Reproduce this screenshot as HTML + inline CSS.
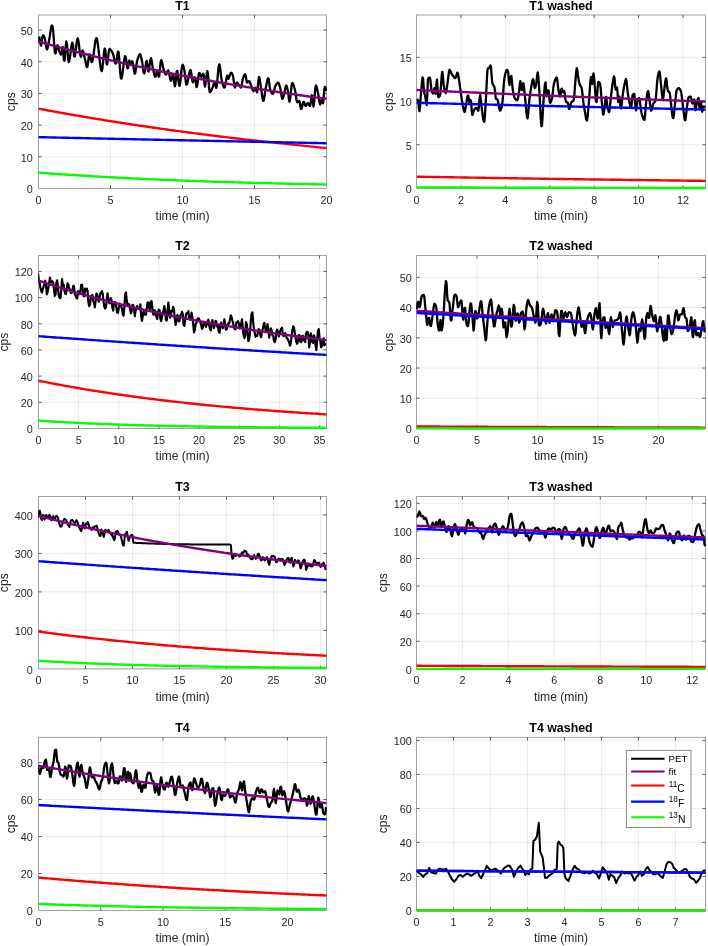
<!DOCTYPE html>
<html lang="en"><head><meta charset="utf-8"><title>PET decay fits</title>
<style>html,body{margin:0;padding:0;background:#fff}body{width:708px;height:946px;overflow:hidden}svg{will-change:transform;font-family:"Liberation Sans",Arial,Helvetica,sans-serif}</style></head>
<body>
<svg width="708" height="946" viewBox="0 0 708 946" style="display:block">
<rect width="708" height="946" fill="#fff"/>
<g>
<path d="M38.5 15V188.45M110.5 15V188.45M182.5 15V188.45M254.5 15V188.45M326.5 15V188.45" stroke="#262626" stroke-opacity="0.09" stroke-width="1" fill="none"/>
<path d="M38.5 188.45H326.5M38.5 156.78H326.5M38.5 125.11H326.5M38.5 93.44H326.5M38.5 61.77H326.5M38.5 30.1H326.5" stroke="#262626" stroke-opacity="0.09" stroke-width="1" fill="none"/>
<rect x="38.5" y="15" width="288" height="173.45" fill="none" stroke="#a2a2a2" stroke-width="1"/>
<path d="M110.5 188.45v-3M110.5 15v3M182.5 188.45v-3M182.5 15v3M254.5 188.45v-3M254.5 15v3M38.5 156.78h3M326.5 156.78h-3M38.5 125.11h3M326.5 125.11h-3M38.5 93.44h3M326.5 93.44h-3M38.5 61.77h3M326.5 61.77h-3M38.5 30.1h3M326.5 30.1h-3" stroke="#5c5c5c" stroke-width="1" fill="none"/>
<clipPath id="c0"><rect x="38.2" y="14.7" width="288.8" height="175.35"/></clipPath>
<g clip-path="url(#c0)" fill="none" stroke-linejoin="round" stroke-linecap="butt">
<polyline points="38.12,42.6 38.72,38.27 39.32,37.5 39.92,40.35 40.52,44.04 41.12,45.69 41.72,42.38 42.32,37.13 42.92,35.27 43.52,35.73 44.12,36.61 44.72,37.92 45.32,41.06 45.92,45.04 46.52,48.3 47.12,49.35 47.72,47.9 48.32,44.94 48.92,41.31 49.52,37.86 50.12,34.19 50.72,29.9 51.32,26.48 51.92,25.4 52.52,26.4 53.12,29.81 53.72,37.78 54.32,46.76 54.92,53 55.52,53.45 56.12,50.78 56.72,47.39 57.32,45.25 57.92,45.88 58.52,48.31 59.12,50.82 59.72,52.35 60.32,53.7 60.92,54.52 61.52,53.16 62.12,48.34 62.72,46.97 63.32,53.05 63.92,60.18 64.52,60.77 65.12,54.26 65.72,46 66.32,41.5 66.92,44.22 67.52,51.14 68.12,58.37 68.72,62.06 69.32,60.91 69.92,57.55 70.52,53.02 71.12,48.35 71.72,44.56 72.32,42.66 72.92,44.73 73.52,50.78 74.12,56.12 74.72,56.56 75.32,53.51 75.92,48.76 76.52,43.71 77.12,39.78 77.72,38.37 78.32,40.3 78.92,44.51 79.52,49.61 80.12,54.18 80.72,56.81 81.32,56.07 81.92,52.79 82.52,50.42 83.12,51.15 83.72,53.49 84.32,56.38 84.92,58.91 85.52,61.8 86.12,64.73 86.72,66.83 87.32,67.05 87.92,63.55 88.52,58.34 89.12,54.43 89.72,54.34 90.32,56.73 90.92,59.84 91.52,62.07 92.12,62.02 92.72,59.85 93.32,56.23 93.92,51.78 94.52,47.13 95.12,42.89 95.72,39.68 96.32,38.14 96.92,38.83 97.52,41.66 98.12,46.04 98.72,51.35 99.32,57.01 99.92,62.42 100.52,66.97 101.12,70.07 101.72,71.12 102.32,68.82 102.92,63.68 103.52,57.43 104.12,51.81 104.72,48.52 105.32,49.95 105.92,56.65 106.52,63.3 107.12,64.58 107.72,61.03 108.32,55.58 108.92,50.73 109.52,48.95 110.12,49.21 110.72,49.82 111.32,50.7 111.92,51.77 112.52,52.96 113.12,54.23 113.72,56.41 114.32,59.23 114.92,61.89 115.52,63.57 116.12,63.17 116.72,59.62 117.32,54.95 117.92,51.55 118.52,51.97 119.12,57.46 119.72,65.55 120.32,73.48 120.92,78.48 121.52,78.57 122.12,75.91 122.72,71.66 123.32,66.69 123.92,61.86 124.52,58.05 125.12,56.11 125.72,57.08 126.32,60.74 126.92,65.14 127.52,68.27 128.12,67.98 128.72,64 129.32,60.52 129.92,63.1 130.52,62.99 131.12,62.16 131.72,61.39 132.32,61.37 132.92,63.68 133.52,67.48 134.12,71.3 134.72,73.68 135.32,73.02 135.92,69.14 136.52,64.32 137.12,60.97 137.72,58.82 138.32,56.84 138.92,55.26 139.52,54.3 140.12,54.26 140.72,55.68 141.32,58.09 141.92,60.8 142.52,64.27 143.12,68.95 143.72,72.71 144.32,73.4 144.92,70.65 145.52,66.33 146.12,62.42 146.72,60.93 147.32,64.49 147.92,69.95 148.52,71.62 149.12,68.83 149.72,64.2 150.32,59.9 150.92,58.08 151.52,59.89 152.12,63.7 152.72,67.5 153.32,70.2 153.92,72.96 154.52,75.35 155.12,76.8 155.72,76.46 156.32,73.4 156.92,70.62 157.52,71.18 158.12,74.15 158.72,76.72 159.32,75.64 159.92,69.61 160.52,62.89 161.12,60.07 161.72,61.15 162.32,63.53 162.92,66.45 163.52,69.14 164.12,70.95 164.72,72.56 165.32,73.91 165.92,74.58 166.52,74.01 167.12,72.37 167.72,70.8 168.32,70.49 168.92,72.35 169.52,75.5 170.12,78.7 170.72,80.74 171.32,80.42 171.92,77.93 172.52,75.12 173.12,73.92 173.72,77.37 174.32,83.23 174.92,86.33 175.52,83.19 176.12,76.72 176.72,71.3 177.32,71.01 177.92,75.29 178.52,81.13 179.12,85.56 179.72,85.83 180.32,82.09 180.92,76.26 181.52,70.2 182.12,65.8 182.72,64.8 183.32,66.1 183.92,68.4 184.52,71.07 185.12,75.77 185.72,81.22 186.32,84.68 186.92,84.45 187.52,82.44 188.12,79.43 188.72,76.04 189.32,72.92 189.92,70.68 190.52,69.97 191.12,72.31 191.72,76.7 192.32,80.82 192.92,82.35 193.52,81.1 194.12,78.9 194.72,77.22 195.32,78.14 195.92,83.07 196.52,87.09 197.12,86.11 197.72,81.92 198.32,76.88 198.92,73.3 199.52,73 200.12,74.33 200.72,75.93 201.32,76.72 201.92,76.13 202.52,74.89 203.12,73.82 203.72,74.87 204.32,82.35 204.92,86.58 205.52,84.01 206.12,78.93 206.72,73.81 207.32,71.12 207.92,73.62 208.52,80.61 209.12,88.12 209.72,92.19 210.32,91.98 210.92,91.09 211.52,89.83 212.12,88.43 212.72,87.13 213.32,85.46 213.92,83.65 214.52,82.49 215.12,83.33 215.72,86.71 216.32,87.84 216.92,84.46 217.52,78.38 218.12,71.62 218.72,66.25 219.32,64.31 219.92,66.54 220.52,71.24 221.12,76.55 221.72,80.58 222.32,82.91 222.92,85.05 223.52,86.73 224.12,87.66 224.72,87.25 225.32,84.87 225.92,81.44 226.52,78.03 227.12,75.72 227.72,77.09 228.32,78.88 228.92,77.73 229.52,76 230.12,74.23 230.72,72.98 231.32,72.76 231.92,73.38 232.52,74.54 233.12,76.23 233.72,80.83 234.32,85.88 234.92,87.47 235.52,85.99 236.12,83.81 236.72,82.61 237.32,82.84 237.92,83.49 238.52,84.34 239.12,85.2 239.72,86.03 240.32,86.99 240.92,87.53 241.52,86.15 242.12,82.66 242.72,79.44 243.32,77.64 243.92,75.99 244.52,74.73 245.12,74.14 245.72,75.6 246.32,79.52 246.92,82.44 247.52,82.44 248.12,81.9 248.72,81.37 249.32,81.23 249.92,82.16 250.52,83.86 251.12,85.65 251.72,87.24 252.32,89.08 252.92,90.58 253.52,91.05 254.12,90.17 254.72,88.72 255.32,87.65 255.92,88.42 256.52,91.39 257.12,92.2 257.72,87.75 258.32,81.21 258.92,76.9 259.52,77.81 260.12,81.63 260.72,85.84 261.32,89.84 261.92,94.46 262.52,98.51 263.12,100.8 263.72,100.27 264.32,97.37 264.92,93.3 265.52,89.29 266.12,86.25 266.72,83.12 267.32,80.25 267.92,78.39 268.52,78.56 269.12,82.11 269.72,86.9 270.32,90.24 270.92,91.56 271.52,92.67 272.12,93.47 272.72,93.87 273.32,93.43 273.92,91.42 274.52,88.79 275.12,86.59 275.72,85.4 276.32,84.35 276.92,83.46 277.52,82.84 278.12,82.6 278.72,83.24 279.32,84.89 279.92,87.03 280.52,89.38 281.12,93.12 281.72,96.89 282.32,98.82 282.92,98.17 283.52,96.36 284.12,94.2 284.72,91.57 285.32,88.19 285.92,85.75 286.52,85.73 287.12,87.56 287.72,90.29 288.32,93.72 288.92,99.2 289.52,101.63 290.12,98.94 290.72,93.62 291.32,87.81 291.92,83.67 292.52,82.97 293.12,83.85 293.72,85.45 294.32,87.5 294.92,89.74 295.52,92.66 296.12,97.12 296.72,101.06 297.32,102.36 297.92,102 298.52,101.42 299.12,101 299.72,101.95 300.32,105.72 300.92,109.04 301.52,108.97 302.12,106.7 302.72,103.86 303.32,101.89 303.92,101.99 304.52,103.49 305.12,105.17 305.72,105.9 306.32,105.28 306.92,104.13 307.52,103.21 308.12,103.25 308.72,104.21 309.32,105.35 309.92,105.9 310.52,103.7 311.12,99.14 311.72,95.29 312.32,95.83 312.92,102.79 313.52,106.56 314.12,102.58 314.72,95.09 315.32,88.06 315.92,85.43 316.52,86.52 317.12,88.88 317.72,91.9 318.32,94.94 318.92,98.52 319.52,102.64 320.12,104.49 320.72,103.15 321.32,100.82 321.92,99.55 322.52,102.27 323.12,103.23 323.72,96.9 324.32,89.21 324.92,86.88 325.52,87.85 326.12,90.93" stroke="#000" stroke-width="2.3"/>
<polyline points="38.5,41.5 40.92,42.19 43.34,42.88 45.76,43.57 48.18,44.25 50.6,44.92 53.02,45.59 55.44,46.26 57.86,46.92 60.28,47.58 62.7,48.23 65.12,48.87 67.54,49.52 69.96,50.16 72.38,50.79 74.8,51.42 77.22,52.05 79.64,52.67 82.06,53.29 84.48,53.9 86.9,54.51 89.32,55.11 91.74,55.71 94.16,56.31 96.58,56.9 99,57.49 101.42,58.08 103.84,58.66 106.26,59.24 108.68,59.81 111.11,60.38 113.53,60.94 115.95,61.51 118.37,62.07 120.79,62.62 123.21,63.17 125.63,63.72 128.05,64.26 130.47,64.8 132.89,65.34 135.31,65.87 137.73,66.4 140.15,66.93 142.57,67.45 144.99,67.97 147.41,68.49 149.83,69 152.25,69.51 154.67,70.01 157.09,70.52 159.51,71.01 161.93,71.51 164.35,72 166.77,72.49 169.19,72.98 171.61,73.46 174.03,73.94 176.45,74.42 178.87,74.9 181.29,75.37 183.71,75.84 186.13,76.3 188.55,76.76 190.97,77.22 193.39,77.68 195.81,78.13 198.23,78.58 200.65,79.03 203.07,79.48 205.49,79.92 207.91,80.36 210.33,80.8 212.75,81.23 215.17,81.66 217.59,82.09 220.01,82.52 222.43,82.94 224.85,83.36 227.27,83.78 229.69,84.19 232.11,84.61 234.53,85.02 236.95,85.42 239.37,85.83 241.79,86.23 244.21,86.63 246.63,87.03 249.05,87.42 251.47,87.82 253.89,88.21 256.32,88.6 258.74,88.98 261.16,89.37 263.58,89.75 266,90.13 268.42,90.5 270.84,90.88 273.26,91.25 275.68,91.62 278.1,91.99 280.52,92.35 282.94,92.71 285.36,93.07 287.78,93.43 290.2,93.79 292.62,94.14 295.04,94.5 297.46,94.85 299.88,95.19 302.3,95.54 304.72,95.88 307.14,96.23 309.56,96.57 311.98,96.9 314.4,97.24 316.82,97.57 319.24,97.91 321.66,98.24 324.08,98.56 326.5,98.89" stroke="#800080" stroke-width="2.4"/>
<polyline points="38.5,108.64 40.92,109.1 43.34,109.55 45.76,110 48.18,110.45 50.6,110.89 53.02,111.33 55.44,111.77 57.86,112.21 60.28,112.65 62.7,113.08 65.12,113.51 67.54,113.94 69.96,114.36 72.38,114.78 74.8,115.2 77.22,115.62 79.64,116.04 82.06,116.45 84.48,116.86 86.9,117.27 89.32,117.68 91.74,118.08 94.16,118.48 96.58,118.88 99,119.28 101.42,119.67 103.84,120.06 106.26,120.45 108.68,120.84 111.11,121.23 113.53,121.61 115.95,121.99 118.37,122.37 120.79,122.75 123.21,123.12 125.63,123.5 128.05,123.87 130.47,124.23 132.89,124.6 135.31,124.97 137.73,125.33 140.15,125.69 142.57,126.05 144.99,126.4 147.41,126.76 149.83,127.11 152.25,127.46 154.67,127.8 157.09,128.15 159.51,128.49 161.93,128.84 164.35,129.18 166.77,129.52 169.19,129.85 171.61,130.19 174.03,130.52 176.45,130.85 178.87,131.18 181.29,131.5 183.71,131.83 186.13,132.15 188.55,132.47 190.97,132.79 193.39,133.11 195.81,133.43 198.23,133.74 200.65,134.05 203.07,134.36 205.49,134.67 207.91,134.98 210.33,135.28 212.75,135.58 215.17,135.89 217.59,136.19 220.01,136.48 222.43,136.78 224.85,137.08 227.27,137.37 229.69,137.66 232.11,137.95 234.53,138.24 236.95,138.52 239.37,138.81 241.79,139.09 244.21,139.37 246.63,139.65 249.05,139.93 251.47,140.21 253.89,140.48 256.32,140.76 258.74,141.03 261.16,141.3 263.58,141.57 266,141.84 268.42,142.1 270.84,142.37 273.26,142.63 275.68,142.89 278.1,143.15 280.52,143.41 282.94,143.67 285.36,143.92 287.78,144.18 290.2,144.43 292.62,144.68 295.04,144.93 297.46,145.18 299.88,145.42 302.3,145.67 304.72,145.91 307.14,146.16 309.56,146.4 311.98,146.64 314.4,146.88 316.82,147.11 319.24,147.35 321.66,147.58 324.08,147.82 326.5,148.05" stroke="#ff0000" stroke-width="2.4"/>
<polyline points="38.5,137.14 40.92,137.2 43.34,137.25 45.76,137.31 48.18,137.36 50.6,137.42 53.02,137.47 55.44,137.52 57.86,137.58 60.28,137.63 62.7,137.69 65.12,137.74 67.54,137.79 69.96,137.85 72.38,137.9 74.8,137.95 77.22,138.01 79.64,138.06 82.06,138.12 84.48,138.17 86.9,138.22 89.32,138.28 91.74,138.33 94.16,138.38 96.58,138.43 99,138.49 101.42,138.54 103.84,138.59 106.26,138.65 108.68,138.7 111.11,138.75 113.53,138.81 115.95,138.86 118.37,138.91 120.79,138.96 123.21,139.02 125.63,139.07 128.05,139.12 130.47,139.17 132.89,139.22 135.31,139.28 137.73,139.33 140.15,139.38 142.57,139.43 144.99,139.49 147.41,139.54 149.83,139.59 152.25,139.64 154.67,139.69 157.09,139.74 159.51,139.8 161.93,139.85 164.35,139.9 166.77,139.95 169.19,140 171.61,140.05 174.03,140.1 176.45,140.16 178.87,140.21 181.29,140.26 183.71,140.31 186.13,140.36 188.55,140.41 190.97,140.46 193.39,140.51 195.81,140.56 198.23,140.62 200.65,140.67 203.07,140.72 205.49,140.77 207.91,140.82 210.33,140.87 212.75,140.92 215.17,140.97 217.59,141.02 220.01,141.07 222.43,141.12 224.85,141.17 227.27,141.22 229.69,141.27 232.11,141.32 234.53,141.37 236.95,141.42 239.37,141.47 241.79,141.52 244.21,141.57 246.63,141.62 249.05,141.67 251.47,141.72 253.89,141.77 256.32,141.82 258.74,141.87 261.16,141.92 263.58,141.97 266,142.02 268.42,142.06 270.84,142.11 273.26,142.16 275.68,142.21 278.1,142.26 280.52,142.31 282.94,142.36 285.36,142.41 287.78,142.46 290.2,142.51 292.62,142.55 295.04,142.6 297.46,142.65 299.88,142.7 302.3,142.75 304.72,142.8 307.14,142.85 309.56,142.89 311.98,142.94 314.4,142.99 316.82,143.04 319.24,143.09 321.66,143.14 324.08,143.18 326.5,143.23" stroke="#0000ff" stroke-width="2.4"/>
<polyline points="38.5,172.61 40.92,172.8 43.34,172.98 45.76,173.16 48.18,173.34 50.6,173.51 53.02,173.69 55.44,173.86 57.86,174.03 60.28,174.2 62.7,174.36 65.12,174.53 67.54,174.69 69.96,174.85 72.38,175.01 74.8,175.16 77.22,175.32 79.64,175.47 82.06,175.62 84.48,175.77 86.9,175.92 89.32,176.06 91.74,176.21 94.16,176.35 96.58,176.49 99,176.63 101.42,176.77 103.84,176.9 106.26,177.04 108.68,177.17 111.11,177.3 113.53,177.43 115.95,177.56 118.37,177.68 120.79,177.81 123.21,177.93 125.63,178.05 128.05,178.18 130.47,178.29 132.89,178.41 135.31,178.53 137.73,178.64 140.15,178.76 142.57,178.87 144.99,178.98 147.41,179.09 149.83,179.2 152.25,179.31 154.67,179.42 157.09,179.52 159.51,179.62 161.93,179.73 164.35,179.83 166.77,179.93 169.19,180.03 171.61,180.13 174.03,180.22 176.45,180.32 178.87,180.41 181.29,180.51 183.71,180.6 186.13,180.69 188.55,180.78 190.97,180.87 193.39,180.96 195.81,181.04 198.23,181.13 200.65,181.21 203.07,181.3 205.49,181.38 207.91,181.46 210.33,181.55 212.75,181.63 215.17,181.7 217.59,181.78 220.01,181.86 222.43,181.94 224.85,182.01 227.27,182.09 229.69,182.16 232.11,182.23 234.53,182.31 236.95,182.38 239.37,182.45 241.79,182.52 244.21,182.59 246.63,182.66 249.05,182.72 251.47,182.79 253.89,182.86 256.32,182.92 258.74,182.98 261.16,183.05 263.58,183.11 266,183.17 268.42,183.23 270.84,183.3 273.26,183.36 275.68,183.41 278.1,183.47 280.52,183.53 282.94,183.59 285.36,183.64 287.78,183.7 290.2,183.76 292.62,183.81 295.04,183.86 297.46,183.92 299.88,183.97 302.3,184.02 304.72,184.07 307.14,184.12 309.56,184.17 311.98,184.22 314.4,184.27 316.82,184.32 319.24,184.37 321.66,184.42 324.08,184.46 326.5,184.51" stroke="#00ff00" stroke-width="2.4"/>
</g>
<g font-size="10.8" fill="#262626">
<text x="38.5" y="203.75" text-anchor="middle">0</text>
<text x="110.5" y="203.75" text-anchor="middle">5</text>
<text x="182.5" y="203.75" text-anchor="middle">10</text>
<text x="254.5" y="203.75" text-anchor="middle">15</text>
<text x="326.5" y="203.75" text-anchor="middle">20</text>
<text x="32.7" y="193.2" text-anchor="end">0</text>
<text x="32.7" y="161.53" text-anchor="end">10</text>
<text x="32.7" y="129.86" text-anchor="end">20</text>
<text x="32.7" y="98.19" text-anchor="end">30</text>
<text x="32.7" y="66.52" text-anchor="end">40</text>
<text x="32.7" y="34.85" text-anchor="end">50</text>
</g>
<text x="182.5" y="220.05" font-size="12.15" fill="#262626" text-anchor="middle">time (min)</text>
<text transform="translate(14.7 101.72) rotate(-90)" font-size="12.15" fill="#262626" text-anchor="middle">cps</text>
<text x="182.5" y="9.9" font-size="12.4" font-weight="bold" fill="#000" text-anchor="middle">T1</text>
</g>
<g>
<path d="M416.5 15V188.45M460.92 15V188.45M505.34 15V188.45M549.76 15V188.45M594.18 15V188.45M638.6 15V188.45M683.02 15V188.45" stroke="#262626" stroke-opacity="0.09" stroke-width="1" fill="none"/>
<path d="M416.5 188.45H705.5M416.5 144.76H705.5M416.5 101.08H705.5M416.5 57.39H705.5" stroke="#262626" stroke-opacity="0.09" stroke-width="1" fill="none"/>
<rect x="416.5" y="15" width="289" height="173.45" fill="none" stroke="#a2a2a2" stroke-width="1"/>
<path d="M460.92 188.45v-3M460.92 15v3M505.34 188.45v-3M505.34 15v3M549.76 188.45v-3M549.76 15v3M594.18 188.45v-3M594.18 15v3M638.6 188.45v-3M638.6 15v3M683.02 188.45v-3M683.02 15v3M416.5 144.76h3M705.5 144.76h-3M416.5 101.08h3M705.5 101.08h-3M416.5 57.39h3M705.5 57.39h-3" stroke="#5c5c5c" stroke-width="1" fill="none"/>
<clipPath id="c1"><rect x="416.2" y="14.7" width="289.8" height="175.35"/></clipPath>
<g clip-path="url(#c1)" fill="none" stroke-linejoin="round" stroke-linecap="butt">
<polyline points="416.54,99.44 417.14,99.58 417.74,99.96 418.34,102.42 418.94,109.04 419.54,111.06 420.14,105.1 420.74,96.29 421.34,89.27 421.94,82.13 422.54,77.3 423.14,79.2 423.74,87.78 424.34,93.2 424.94,95.26 425.54,98.02 426.14,102.68 426.74,105.04 427.34,93.93 427.94,79.57 428.54,77.94 429.14,77.65 429.74,77.54 430.34,79.83 430.94,85.58 431.54,90.47 432.14,92.36 432.74,93.58 433.34,93.25 433.94,89.99 434.54,88.21 435.14,93.37 435.74,93.71 436.34,84.75 436.94,79.75 437.54,87.65 438.14,96.76 438.74,97.17 439.34,96.56 439.94,95.58 440.54,92.38 441.14,83.8 441.74,75.1 442.34,71.99 442.94,76.46 443.54,83.46 444.14,87.72 444.74,90.56 445.34,92.56 445.94,92.93 446.54,90.27 447.14,85.87 447.74,81.71 448.34,76.87 448.94,72.14 449.54,69.79 450.14,70.33 450.74,71.73 451.34,73.15 451.94,74.17 452.54,75.11 453.14,75.96 453.74,76.78 454.34,77.61 454.94,78.17 455.54,77.98 456.14,76.28 456.74,74.09 457.34,72.68 457.94,73.51 458.54,76.78 459.14,80.71 459.74,84.69 460.34,89.33 460.94,93.97 461.54,98.03 462.14,101.82 462.74,105.24 463.34,108.06 463.94,110.78 464.54,112.15 465.14,110.51 465.74,106.82 466.34,103.25 466.94,99.45 467.54,96.08 468.14,95.45 468.74,98.54 469.34,102.4 469.94,103.41 470.54,100.07 471.14,101.96 471.74,111.23 472.34,114.91 472.94,113.72 473.54,111.73 474.14,109.89 474.74,108.97 475.34,108.32 475.94,107.94 476.54,108.16 477.14,109.18 477.74,110.29 478.34,110.66 478.94,106.01 479.54,98.67 480.14,95.22 480.74,98.99 481.34,105.15 481.94,109.64 482.54,114.26 483.14,118.42 483.74,121.27 484.34,121.76 484.94,115.62 485.54,105.08 486.14,94.81 486.74,82.3 487.34,71.09 487.94,68.36 488.54,68.36 489.14,68.13 489.74,66.71 490.34,65.38 490.94,67.11 491.54,74.41 492.14,81.66 492.74,84.16 493.34,85.17 493.94,86.04 494.54,87.54 495.14,92.68 495.74,98.16 496.34,99.01 496.94,99.21 497.54,99.77 498.14,102.02 498.74,105.35 499.34,108.57 499.94,110.55 500.54,110.42 501.14,108.87 501.74,106.37 502.34,103.32 502.94,96.93 503.54,87.94 504.14,80.22 504.74,76.48 505.34,73.64 505.94,71.41 506.54,70.05 507.14,69.83 507.74,70.64 508.34,73.7 508.94,81.89 509.54,85.15 510.14,81.41 510.74,76.62 511.34,75.96 511.94,81.05 512.54,87.79 513.14,91.98 513.74,94.84 514.34,97.13 514.94,98.57 515.54,99.24 516.14,99.75 516.74,100.06 517.34,100.04 517.94,98.28 518.54,95.44 519.14,90.89 519.74,84.78 520.34,81.15 520.94,84.02 521.54,89.81 522.14,90.05 522.74,85.5 523.34,83.26 523.94,86.66 524.54,92.7 525.14,98.3 525.74,104.73 526.34,111.44 526.94,116.63 527.54,118.47 528.14,114.64 528.74,107.1 529.34,99.87 529.94,95.19 530.54,91.13 531.14,87.62 531.74,84.34 532.34,81.09 532.94,79.11 533.54,80.24 534.14,84.75 534.74,88.05 535.34,87.42 535.94,85.26 536.54,81.83 537.14,75.35 537.74,72.39 538.34,76.77 538.94,85.03 539.54,93.59 540.14,105.31 540.74,117.83 541.34,126.25 541.94,125.92 542.54,117.38 543.14,106.17 543.74,97.69 544.34,90.22 544.94,84.14 545.54,82.45 546.14,89.48 546.74,96.4 547.34,94.58 547.94,90.42 548.54,90.44 549.14,95.93 549.74,101.7 550.34,102.86 550.94,101.81 551.54,99.97 552.14,97.72 552.74,93.27 553.34,87.58 553.94,83.76 554.54,81.68 555.14,79.89 555.74,78.51 556.34,77.7 556.94,77.93 557.54,82.19 558.14,88.03 558.74,91.79 559.34,94.48 559.94,96.31 560.54,95.31 561.14,89.2 561.74,88.61 562.34,90.65 562.94,92.29 563.54,91.86 564.14,90.98 564.74,93.26 565.34,98.46 565.94,101.59 566.54,102.07 567.14,102.31 567.74,102.66 568.34,104.35 568.94,108.74 569.54,108.8 570.14,106.53 570.74,103.82 571.34,102.18 571.94,101.6 572.54,101.25 573.14,100.83 573.74,100 574.34,95.12 574.94,86.86 575.54,79.36 576.14,72.39 576.74,68.11 577.34,70.37 577.94,75.44 578.54,79.27 579.14,82.2 579.74,84.54 580.34,85.85 580.94,86.56 581.54,87.69 582.14,91.24 582.74,96.64 583.34,102.05 583.94,106.14 584.54,109.74 585.14,113.03 585.74,116.68 586.34,119.7 586.94,120.49 587.54,117.09 588.14,110.86 588.74,104.17 589.34,96.56 589.94,87.15 590.54,79.44 591.14,77.04 591.74,83.45 592.34,83.91 592.94,76.88 593.54,73.41 594.14,78.01 594.74,85.4 595.34,93.22 595.94,101.26 596.54,102.09 597.14,95.34 597.74,86.66 598.34,81.83 598.94,82.03 599.54,82.82 600.14,84.04 600.74,88.81 601.34,96.68 601.94,103.76 602.54,109.98 603.14,114.57 603.74,113.88 604.34,109.34 604.94,103.54 605.54,98.93 606.14,96.83 606.74,101.08 607.34,106.14 607.94,108.95 608.54,111.25 609.14,112.14 609.74,109.04 610.34,102.71 610.94,96.61 611.54,91.63 612.14,86.79 612.74,82.72 613.34,79.13 613.94,76.45 614.54,78.2 615.14,86.2 615.74,89.49 616.34,88.42 616.94,87.45 617.54,92.43 618.14,101.89 618.74,102.03 619.34,96.74 619.94,100.52 620.54,107.93 621.14,108.54 621.74,103.88 622.34,97.87 622.94,93.43 623.54,89.67 624.14,86.36 624.74,83.45 625.34,80.6 625.94,79 626.54,80.88 627.14,86.67 627.74,92.69 628.34,96.62 628.94,100.04 629.54,102.91 630.14,105.32 630.74,107.39 631.34,107.25 631.94,100.58 632.54,95.22 633.14,94.42 633.74,93.93 634.34,93.93 634.94,99.96 635.54,108.33 636.14,110.39 636.74,106.51 637.34,101.5 637.94,99.18 638.54,98.38 639.14,98.02 639.74,99.98 640.34,104.91 640.94,110.07 641.54,113.01 642.14,115.18 642.74,117.13 643.34,118.68 643.94,119.66 644.54,119.74 645.14,114.61 645.74,106.35 646.34,100.2 646.94,95.81 647.54,92.27 648.14,90.98 648.74,93.69 649.34,98.77 649.94,103.28 650.54,107.94 651.14,110.7 651.74,109.78 652.34,107.34 652.94,104.76 653.54,103.3 654.14,102.61 654.74,102.02 655.34,101.07 655.94,97.46 656.54,89.77 657.14,81.81 657.74,77.19 658.34,74.03 658.94,71.79 659.54,71.4 660.14,75.52 660.74,82.02 661.34,87.76 661.94,94.25 662.54,98.92 663.14,98.53 663.74,94.2 664.34,88.8 664.94,84.38 665.54,79.9 666.14,78.37 666.74,82.26 667.34,88.07 667.94,91.07 668.54,91.56 669.14,91.9 669.74,92.94 670.34,97.71 670.94,103.44 671.54,108.6 672.14,114 672.74,117.78 673.34,118.09 673.94,114.41 674.54,108.64 675.14,102.84 675.74,97.01 676.34,91.46 676.94,89.69 677.54,88.85 678.14,88.32 678.74,88.14 679.34,88.42 679.94,89.16 680.54,90.27 681.14,91.95 681.74,95.96 682.34,101.23 682.94,106.22 683.54,111.05 684.14,116.22 684.74,119.89 685.34,120.21 685.94,116.44 686.54,110.72 687.14,105.54 687.74,101.43 688.34,97.99 688.94,97.13 689.54,96.84 690.14,96.67 690.74,96.61 691.34,98.59 691.94,102.18 692.54,103.63 693.14,102.3 693.74,100.32 694.34,99.56 694.94,107.8 695.54,110.25 696.14,106.78 696.74,102.51 697.34,100.16 697.94,98.64 698.54,98.05 699.14,105.92 699.74,108.78 700.34,104.83 700.94,102.27 701.54,106.32 702.14,111.66 702.74,110.46 703.34,106.68 703.94,106.52 704.54,106.73 705.14,107.36" stroke="#000" stroke-width="2.3"/>
<polyline points="416.5,89.98 418.93,90.09 421.36,90.21 423.79,90.32 426.21,90.43 428.64,90.54 431.07,90.65 433.5,90.75 435.93,90.86 438.36,90.97 440.79,91.08 443.21,91.19 445.64,91.3 448.07,91.4 450.5,91.51 452.93,91.62 455.36,91.73 457.79,91.83 460.21,91.94 462.64,92.05 465.07,92.15 467.5,92.26 469.93,92.36 472.36,92.47 474.79,92.57 477.21,92.68 479.64,92.78 482.07,92.89 484.5,92.99 486.93,93.1 489.36,93.2 491.79,93.3 494.21,93.41 496.64,93.51 499.07,93.61 501.5,93.71 503.93,93.82 506.36,93.92 508.79,94.02 511.21,94.12 513.64,94.22 516.07,94.32 518.5,94.42 520.93,94.53 523.36,94.63 525.79,94.73 528.21,94.83 530.64,94.93 533.07,95.03 535.5,95.12 537.93,95.22 540.36,95.32 542.79,95.42 545.21,95.52 547.64,95.62 550.07,95.72 552.5,95.81 554.93,95.91 557.36,96.01 559.79,96.11 562.21,96.2 564.64,96.3 567.07,96.4 569.5,96.49 571.93,96.59 574.36,96.69 576.79,96.78 579.21,96.88 581.64,96.97 584.07,97.07 586.5,97.16 588.93,97.26 591.36,97.35 593.79,97.45 596.21,97.54 598.64,97.63 601.07,97.73 603.5,97.82 605.93,97.91 608.36,98.01 610.79,98.1 613.21,98.19 615.64,98.29 618.07,98.38 620.5,98.47 622.93,98.56 625.36,98.65 627.79,98.75 630.21,98.84 632.64,98.93 635.07,99.02 637.5,99.11 639.93,99.2 642.36,99.29 644.79,99.38 647.21,99.47 649.64,99.56 652.07,99.65 654.5,99.74 656.93,99.83 659.36,99.92 661.79,100.01 664.21,100.1 666.64,100.19 669.07,100.28 671.5,100.36 673.93,100.45 676.36,100.54 678.79,100.63 681.21,100.72 683.64,100.8 686.07,100.89 688.5,100.98 690.93,101.06 693.36,101.15 695.79,101.24 698.21,101.32 700.64,101.41 703.07,101.5 705.5,101.58" stroke="#800080" stroke-width="2.4"/>
<polyline points="416.5,176.66 418.93,176.7 421.36,176.74 423.79,176.79 426.21,176.83 428.64,176.87 431.07,176.92 433.5,176.96 435.93,177 438.36,177.04 440.79,177.09 443.21,177.13 445.64,177.17 448.07,177.21 450.5,177.25 452.93,177.3 455.36,177.34 457.79,177.38 460.21,177.42 462.64,177.46 465.07,177.5 467.5,177.54 469.93,177.58 472.36,177.62 474.79,177.66 477.21,177.7 479.64,177.74 482.07,177.78 484.5,177.82 486.93,177.86 489.36,177.9 491.79,177.94 494.21,177.98 496.64,178.02 499.07,178.06 501.5,178.1 503.93,178.13 506.36,178.17 508.79,178.21 511.21,178.25 513.64,178.29 516.07,178.32 518.5,178.36 520.93,178.4 523.36,178.44 525.79,178.47 528.21,178.51 530.64,178.55 533.07,178.58 535.5,178.62 537.93,178.66 540.36,178.69 542.79,178.73 545.21,178.77 547.64,178.8 550.07,178.84 552.5,178.87 554.93,178.91 557.36,178.95 559.79,178.98 562.21,179.02 564.64,179.05 567.07,179.09 569.5,179.12 571.93,179.16 574.36,179.19 576.79,179.22 579.21,179.26 581.64,179.29 584.07,179.33 586.5,179.36 588.93,179.39 591.36,179.43 593.79,179.46 596.21,179.49 598.64,179.53 601.07,179.56 603.5,179.59 605.93,179.63 608.36,179.66 610.79,179.69 613.21,179.72 615.64,179.76 618.07,179.79 620.5,179.82 622.93,179.85 625.36,179.89 627.79,179.92 630.21,179.95 632.64,179.98 635.07,180.01 637.5,180.04 639.93,180.07 642.36,180.11 644.79,180.14 647.21,180.17 649.64,180.2 652.07,180.23 654.5,180.26 656.93,180.29 659.36,180.32 661.79,180.35 664.21,180.38 666.64,180.41 669.07,180.44 671.5,180.47 673.93,180.5 676.36,180.53 678.79,180.56 681.21,180.59 683.64,180.62 686.07,180.65 688.5,180.68 690.93,180.7 693.36,180.73 695.79,180.76 698.21,180.79 700.64,180.82 703.07,180.85 705.5,180.88" stroke="#ff0000" stroke-width="2.4"/>
<polyline points="416.5,102.83 418.93,102.89 421.36,102.95 423.79,103 426.21,103.06 428.64,103.12 431.07,103.18 433.5,103.24 435.93,103.3 438.36,103.36 440.79,103.42 443.21,103.48 445.64,103.53 448.07,103.59 450.5,103.65 452.93,103.71 455.36,103.77 457.79,103.83 460.21,103.88 462.64,103.94 465.07,104 467.5,104.06 469.93,104.12 472.36,104.18 474.79,104.23 477.21,104.29 479.64,104.35 482.07,104.41 484.5,104.47 486.93,104.52 489.36,104.58 491.79,104.64 494.21,104.7 496.64,104.76 499.07,104.81 501.5,104.87 503.93,104.93 506.36,104.99 508.79,105.04 511.21,105.1 513.64,105.16 516.07,105.22 518.5,105.27 520.93,105.33 523.36,105.39 525.79,105.45 528.21,105.5 530.64,105.56 533.07,105.62 535.5,105.68 537.93,105.73 540.36,105.79 542.79,105.85 545.21,105.9 547.64,105.96 550.07,106.02 552.5,106.07 554.93,106.13 557.36,106.19 559.79,106.25 562.21,106.3 564.64,106.36 567.07,106.42 569.5,106.47 571.93,106.53 574.36,106.59 576.79,106.64 579.21,106.7 581.64,106.75 584.07,106.81 586.5,106.87 588.93,106.92 591.36,106.98 593.79,107.04 596.21,107.09 598.64,107.15 601.07,107.2 603.5,107.26 605.93,107.32 608.36,107.37 610.79,107.43 613.21,107.48 615.64,107.54 618.07,107.6 620.5,107.65 622.93,107.71 625.36,107.76 627.79,107.82 630.21,107.87 632.64,107.93 635.07,107.99 637.5,108.04 639.93,108.1 642.36,108.15 644.79,108.21 647.21,108.26 649.64,108.32 652.07,108.37 654.5,108.43 656.93,108.48 659.36,108.54 661.79,108.59 664.21,108.65 666.64,108.71 669.07,108.76 671.5,108.82 673.93,108.87 676.36,108.93 678.79,108.98 681.21,109.03 683.64,109.09 686.07,109.14 688.5,109.2 690.93,109.25 693.36,109.31 695.79,109.36 698.21,109.42 700.64,109.47 703.07,109.53 705.5,109.58" stroke="#0000ff" stroke-width="2.4"/>
<polyline points="416.5,187.4 418.93,187.41 421.36,187.42 423.79,187.43 426.21,187.43 428.64,187.44 431.07,187.45 433.5,187.46 435.93,187.46 438.36,187.47 440.79,187.48 443.21,187.49 445.64,187.49 448.07,187.5 450.5,187.51 452.93,187.51 455.36,187.52 457.79,187.53 460.21,187.54 462.64,187.54 465.07,187.55 467.5,187.56 469.93,187.56 472.36,187.57 474.79,187.58 477.21,187.58 479.64,187.59 482.07,187.6 484.5,187.6 486.93,187.61 489.36,187.62 491.79,187.62 494.21,187.63 496.64,187.63 499.07,187.64 501.5,187.65 503.93,187.65 506.36,187.66 508.79,187.66 511.21,187.67 513.64,187.68 516.07,187.68 518.5,187.69 520.93,187.69 523.36,187.7 525.79,187.71 528.21,187.71 530.64,187.72 533.07,187.72 535.5,187.73 537.93,187.73 540.36,187.74 542.79,187.74 545.21,187.75 547.64,187.75 550.07,187.76 552.5,187.77 554.93,187.77 557.36,187.78 559.79,187.78 562.21,187.79 564.64,187.79 567.07,187.8 569.5,187.8 571.93,187.81 574.36,187.81 576.79,187.82 579.21,187.82 581.64,187.82 584.07,187.83 586.5,187.83 588.93,187.84 591.36,187.84 593.79,187.85 596.21,187.85 598.64,187.86 601.07,187.86 603.5,187.87 605.93,187.87 608.36,187.88 610.79,187.88 613.21,187.88 615.64,187.89 618.07,187.89 620.5,187.9 622.93,187.9 625.36,187.9 627.79,187.91 630.21,187.91 632.64,187.92 635.07,187.92 637.5,187.93 639.93,187.93 642.36,187.93 644.79,187.94 647.21,187.94 649.64,187.94 652.07,187.95 654.5,187.95 656.93,187.96 659.36,187.96 661.79,187.96 664.21,187.97 666.64,187.97 669.07,187.97 671.5,187.98 673.93,187.98 676.36,187.99 678.79,187.99 681.21,187.99 683.64,188 686.07,188 688.5,188 690.93,188.01 693.36,188.01 695.79,188.01 698.21,188.02 700.64,188.02 703.07,188.02 705.5,188.03" stroke="#00ff00" stroke-width="2.4"/>
</g>
<g font-size="10.8" fill="#262626">
<text x="416.5" y="203.75" text-anchor="middle">0</text>
<text x="460.92" y="203.75" text-anchor="middle">2</text>
<text x="505.34" y="203.75" text-anchor="middle">4</text>
<text x="549.76" y="203.75" text-anchor="middle">6</text>
<text x="594.18" y="203.75" text-anchor="middle">8</text>
<text x="638.6" y="203.75" text-anchor="middle">10</text>
<text x="683.02" y="203.75" text-anchor="middle">12</text>
<text x="411.7" y="193.2" text-anchor="end">0</text>
<text x="411.7" y="149.51" text-anchor="end">5</text>
<text x="411.7" y="105.83" text-anchor="end">10</text>
<text x="411.7" y="62.14" text-anchor="end">15</text>
</g>
<text x="561" y="220.05" font-size="12.15" fill="#262626" text-anchor="middle">time (min)</text>
<text transform="translate(392.7 101.72) rotate(-90)" font-size="12.15" fill="#262626" text-anchor="middle">cps</text>
<text x="561" y="9.9" font-size="12.4" font-weight="bold" fill="#000" text-anchor="middle">T1 washed</text>
</g>
<g>
<path d="M38.5 255.5V428.5M78.64 255.5V428.5M118.79 255.5V428.5M158.94 255.5V428.5M199.08 255.5V428.5M239.22 255.5V428.5M279.37 255.5V428.5M319.51 255.5V428.5" stroke="#262626" stroke-opacity="0.09" stroke-width="1" fill="none"/>
<path d="M38.5 428.5H326.5M38.5 402.32H326.5M38.5 376.14H326.5M38.5 349.96H326.5M38.5 323.78H326.5M38.5 297.6H326.5M38.5 271.42H326.5" stroke="#262626" stroke-opacity="0.09" stroke-width="1" fill="none"/>
<rect x="38.5" y="255.5" width="288" height="173" fill="none" stroke="#a2a2a2" stroke-width="1"/>
<path d="M78.64 428.5v-3M78.64 255.5v3M118.79 428.5v-3M118.79 255.5v3M158.94 428.5v-3M158.94 255.5v3M199.08 428.5v-3M199.08 255.5v3M239.22 428.5v-3M239.22 255.5v3M279.37 428.5v-3M279.37 255.5v3M319.51 428.5v-3M319.51 255.5v3M38.5 402.32h3M326.5 402.32h-3M38.5 376.14h3M326.5 376.14h-3M38.5 349.96h3M326.5 349.96h-3M38.5 323.78h3M326.5 323.78h-3M38.5 297.6h3M326.5 297.6h-3M38.5 271.42h3M326.5 271.42h-3" stroke="#5c5c5c" stroke-width="1" fill="none"/>
<clipPath id="c2"><rect x="38.2" y="255.2" width="288.8" height="174.9"/></clipPath>
<g clip-path="url(#c2)" fill="none" stroke-linejoin="round" stroke-linecap="butt">
<polyline points="37.98,273.3 38.78,279.74 39.58,282.64 40.38,287.31 41.18,290.69 41.98,292.44 42.78,288.97 43.58,286.77 44.38,284.06 45.18,280.74 45.98,284.01 46.78,294.42 47.58,292.01 48.38,287.61 49.18,283.12 49.98,277.51 50.78,282.52 51.58,282.01 52.38,281.2 53.18,282.58 53.98,289.01 54.78,295.81 55.58,294.39 56.38,282.69 57.18,280.35 57.98,288.36 58.78,295.39 59.58,297.93 60.38,298.21 61.18,291.21 61.98,279.2 62.78,284.65 63.58,284.57 64.38,290.53 65.18,293.71 65.98,294.04 66.78,288.91 67.58,283.17 68.38,284.58 69.18,288.73 69.98,289.31 70.78,292.94 71.58,292.78 72.38,290.41 73.18,285.82 73.98,286.2 74.78,294.51 75.58,295.56 76.38,297.84 77.18,298.53 77.98,291.08 78.78,291.63 79.58,294.13 80.38,292.47 81.18,285.02 81.98,284.6 82.78,289.69 83.58,296.18 84.38,296.05 85.18,288.64 85.98,290.52 86.78,288.58 87.58,291.01 88.38,301.97 89.18,306.11 89.98,304.51 90.78,297.6 91.58,295.77 92.38,294.99 93.18,301.25 93.98,302.23 94.78,307.42 95.58,301.36 96.38,293.52 97.18,294.35 97.98,299.73 98.78,301.82 99.58,297.58 100.38,293.15 101.18,292.82 101.98,291.06 102.78,294.49 103.58,301.69 104.38,307.01 105.18,308.54 105.98,307.01 106.78,300.13 107.58,293.3 108.38,299.37 109.18,302.9 109.98,303.42 110.78,298.12 111.58,300.45 112.38,307.44 113.18,310.56 113.98,302.55 114.78,301.93 115.58,303.18 116.38,307.59 117.18,312.52 117.98,312.84 118.78,307.78 119.58,303.6 120.38,304.63 121.18,306.32 121.98,308.69 122.78,314.22 123.58,315.63 124.38,307.13 125.18,294.15 125.98,292.45 126.78,300.75 127.58,304.92 128.38,305.11 129.18,304.21 129.98,308.19 130.78,313.35 131.58,311.67 132.38,304.76 133.18,305 133.98,308.12 134.78,316.26 135.58,310.64 136.38,309.29 137.18,305.93 137.98,308.52 138.78,308.29 139.58,309.33 140.38,304.32 141.18,316.42 141.98,320.9 142.78,315.93 143.58,311.29 144.38,314.56 145.18,314.83 145.98,314.53 146.78,308.6 147.58,302.71 148.38,302.58 149.18,308.04 149.98,309.63 150.78,301.69 151.58,301.25 152.38,308.09 153.18,314.22 153.98,314.75 154.78,310.21 155.58,311.99 156.38,316.35 157.18,319 157.98,312.89 158.78,309.69 159.58,310.15 160.38,318.56 161.18,321.04 161.98,317.36 162.78,313.13 163.58,310.08 164.38,306.06 165.18,310.95 165.98,320.24 166.78,320.6 167.58,311.22 168.38,302.53 169.18,310.03 169.98,317.63 170.78,316.34 171.58,310.68 172.38,311.22 173.18,306.91 173.98,309.8 174.78,318.58 175.58,324.93 176.38,321.34 177.18,315.12 177.98,315.79 178.78,321.38 179.58,320.89 180.38,315.22 181.18,314.2 181.98,311.99 182.78,314.11 183.58,324.88 184.38,325.9 185.18,320.06 185.98,314.73 186.78,313.08 187.58,312.9 188.38,311.18 189.18,318.54 189.98,319.71 190.78,319.45 191.58,312.67 192.38,317.25 193.18,323.61 193.98,332.32 194.78,330.15 195.58,324.07 196.38,322.81 197.18,319.42 197.98,318.22 198.78,318.4 199.58,320.07 200.38,322.16 201.18,324.7 201.98,328.91 202.78,328.09 203.58,323.66 204.38,323.01 205.18,324.37 205.98,326.83 206.78,324.56 207.58,321.52 208.38,319.59 209.18,325.48 209.98,328.82 210.78,330.4 211.58,324.67 212.38,320.18 213.18,324.11 213.98,328.07 214.78,324.79 215.58,320.74 216.38,321.88 217.18,326.57 217.98,325.7 218.78,331.94 219.58,332.86 220.38,325.78 221.18,322.55 221.98,325.13 222.78,328.14 223.58,325.24 224.38,319.41 225.18,325.67 225.98,329.71 226.78,329.15 227.58,324.5 228.38,323.22 229.18,323.62 229.98,319.55 230.78,315.28 231.58,317.17 232.38,320.42 233.18,323.37 233.98,327.21 234.78,329.23 235.58,329.11 236.38,322.24 237.18,322.57 237.98,321.2 238.78,323.31 239.58,328.42 240.38,326.73 241.18,323.89 241.98,319.35 242.78,328.67 243.58,335.26 244.38,338 245.18,335.95 245.98,322.1 246.78,324.08 247.58,333.19 248.38,341.1 249.18,339.31 249.98,332.3 250.78,321.41 251.58,314.01 252.38,312.39 253.18,322.18 253.98,329.66 254.78,333.1 255.58,336.83 256.38,335.31 257.18,335.83 257.98,332.24 258.78,329.11 259.58,330.23 260.38,335.05 261.18,337.2 261.98,331.28 262.78,329.15 263.58,324.55 264.38,322.77 265.18,328.3 265.98,331.08 266.78,328.88 267.58,324.17 268.38,330.88 269.18,337.59 269.98,333.41 270.78,328.27 271.58,330.14 272.38,335.18 273.18,335.5 273.98,340.92 274.78,342.08 275.58,339.62 276.38,331.97 277.18,329.52 277.98,333.07 278.78,336.36 279.58,333.14 280.38,330.44 281.18,328.6 281.98,327.62 282.78,333.64 283.58,336.15 284.38,335.34 285.18,333.17 285.98,335.69 286.78,338.11 287.58,338.71 288.38,340.55 289.18,342.43 289.98,345.55 290.78,343.05 291.58,337.53 292.38,330.35 293.18,326.24 293.98,327.82 294.78,332.34 295.58,337.81 296.38,341.76 297.18,343.79 297.98,340.84 298.78,335.15 299.58,335.43 300.38,341.53 301.18,342.18 301.98,336.17 302.78,335.65 303.58,340.36 304.38,338.39 305.18,342.04 305.98,333.75 306.78,332.13 307.58,331.87 308.38,335.19 309.18,347.36 309.98,341.94 310.78,333.28 311.58,336.13 312.38,342.2 313.18,343.13 313.98,335.45 314.78,337.79 315.58,345.29 316.38,350.18 317.18,339.37 317.98,331.01 318.78,329.17 319.58,338.38 320.38,341.5 321.18,347.26 321.98,345.57 322.78,339.75 323.58,338.38 324.38,345.38 325.18,344.2 325.98,343.58" stroke="#000" stroke-width="2.2"/>
<polyline points="38.5,280.58 40.92,281.41 43.34,282.23 45.76,283.04 48.18,283.84 50.6,284.63 53.02,285.41 55.44,286.19 57.86,286.96 60.28,287.72 62.7,288.47 65.12,289.21 67.54,289.95 69.96,290.68 72.38,291.4 74.8,292.12 77.22,292.82 79.64,293.52 82.06,294.22 84.48,294.9 86.9,295.58 89.32,296.26 91.74,296.92 94.16,297.58 96.58,298.24 99,298.89 101.42,299.53 103.84,300.16 106.26,300.79 108.68,301.41 111.11,302.03 113.53,302.64 115.95,303.25 118.37,303.85 120.79,304.44 123.21,305.03 125.63,305.61 128.05,306.19 130.47,306.76 132.89,307.33 135.31,307.89 137.73,308.45 140.15,309 142.57,309.54 144.99,310.09 147.41,310.62 149.83,311.15 152.25,311.68 154.67,312.2 157.09,312.72 159.51,313.24 161.93,313.74 164.35,314.25 166.77,314.75 169.19,315.24 171.61,315.73 174.03,316.22 176.45,316.7 178.87,317.18 181.29,317.66 183.71,318.13 186.13,318.59 188.55,319.06 190.97,319.51 193.39,319.97 195.81,320.42 198.23,320.87 200.65,321.31 203.07,321.75 205.49,322.19 207.91,322.62 210.33,323.05 212.75,323.47 215.17,323.9 217.59,324.31 220.01,324.73 222.43,325.14 224.85,325.55 227.27,325.95 229.69,326.36 232.11,326.76 234.53,327.15 236.95,327.54 239.37,327.93 241.79,328.32 244.21,328.7 246.63,329.08 249.05,329.46 251.47,329.84 253.89,330.21 256.32,330.58 258.74,330.94 261.16,331.31 263.58,331.67 266,332.03 268.42,332.38 270.84,332.73 273.26,333.08 275.68,333.43 278.1,333.78 280.52,334.12 282.94,334.46 285.36,334.8 287.78,335.13 290.2,335.46 292.62,335.79 295.04,336.12 297.46,336.45 299.88,336.77 302.3,337.09 304.72,337.41 307.14,337.73 309.56,338.04 311.98,338.35 314.4,338.66 316.82,338.97 319.24,339.28 321.66,339.58 324.08,339.88 326.5,340.18" stroke="#800080" stroke-width="2.4"/>
<polyline points="38.5,380.72 40.92,381.21 43.34,381.69 45.76,382.17 48.18,382.64 50.6,383.11 53.02,383.57 55.44,384.03 57.86,384.49 60.28,384.94 62.7,385.38 65.12,385.82 67.54,386.26 69.96,386.69 72.38,387.11 74.8,387.54 77.22,387.95 79.64,388.37 82.06,388.78 84.48,389.18 86.9,389.59 89.32,389.98 91.74,390.38 94.16,390.76 96.58,391.15 99,391.53 101.42,391.91 103.84,392.28 106.26,392.65 108.68,393.02 111.11,393.38 113.53,393.74 115.95,394.09 118.37,394.44 120.79,394.79 123.21,395.14 125.63,395.48 128.05,395.81 130.47,396.15 132.89,396.48 135.31,396.8 137.73,397.13 140.15,397.45 142.57,397.77 144.99,398.08 147.41,398.39 149.83,398.7 152.25,399 154.67,399.3 157.09,399.6 159.51,399.9 161.93,400.19 164.35,400.48 166.77,400.76 169.19,401.05 171.61,401.33 174.03,401.6 176.45,401.88 178.87,402.15 181.29,402.42 183.71,402.68 186.13,402.95 188.55,403.21 190.97,403.47 193.39,403.72 195.81,403.98 198.23,404.23 200.65,404.47 203.07,404.72 205.49,404.96 207.91,405.2 210.33,405.44 212.75,405.67 215.17,405.91 217.59,406.14 220.01,406.37 222.43,406.59 224.85,406.82 227.27,407.04 229.69,407.26 232.11,407.47 234.53,407.69 236.95,407.9 239.37,408.11 241.79,408.32 244.21,408.53 246.63,408.73 249.05,408.93 251.47,409.13 253.89,409.33 256.32,409.52 258.74,409.72 261.16,409.91 263.58,410.1 266,410.29 268.42,410.47 270.84,410.66 273.26,410.84 275.68,411.02 278.1,411.2 280.52,411.37 282.94,411.55 285.36,411.72 287.78,411.89 290.2,412.06 292.62,412.23 295.04,412.4 297.46,412.56 299.88,412.72 302.3,412.88 304.72,413.04 307.14,413.2 309.56,413.36 311.98,413.51 314.4,413.67 316.82,413.82 319.24,413.97 321.66,414.12 324.08,414.26 326.5,414.41" stroke="#ff0000" stroke-width="2.4"/>
<polyline points="38.5,336.22 40.92,336.39 43.34,336.57 45.76,336.74 48.18,336.92 50.6,337.09 53.02,337.26 55.44,337.44 57.86,337.61 60.28,337.78 62.7,337.96 65.12,338.13 67.54,338.3 69.96,338.47 72.38,338.64 74.8,338.81 77.22,338.98 79.64,339.15 82.06,339.32 84.48,339.49 86.9,339.66 89.32,339.83 91.74,340 94.16,340.17 96.58,340.34 99,340.5 101.42,340.67 103.84,340.84 106.26,341 108.68,341.17 111.11,341.34 113.53,341.5 115.95,341.67 118.37,341.83 120.79,342 123.21,342.16 125.63,342.33 128.05,342.49 130.47,342.65 132.89,342.82 135.31,342.98 137.73,343.14 140.15,343.31 142.57,343.47 144.99,343.63 147.41,343.79 149.83,343.95 152.25,344.11 154.67,344.27 157.09,344.43 159.51,344.59 161.93,344.75 164.35,344.91 166.77,345.07 169.19,345.23 171.61,345.39 174.03,345.55 176.45,345.7 178.87,345.86 181.29,346.02 183.71,346.18 186.13,346.33 188.55,346.49 190.97,346.64 193.39,346.8 195.81,346.95 198.23,347.11 200.65,347.26 203.07,347.42 205.49,347.57 207.91,347.73 210.33,347.88 212.75,348.03 215.17,348.19 217.59,348.34 220.01,348.49 222.43,348.64 224.85,348.8 227.27,348.95 229.69,349.1 232.11,349.25 234.53,349.4 236.95,349.55 239.37,349.7 241.79,349.85 244.21,350 246.63,350.15 249.05,350.3 251.47,350.45 253.89,350.6 256.32,350.74 258.74,350.89 261.16,351.04 263.58,351.19 266,351.33 268.42,351.48 270.84,351.63 273.26,351.77 275.68,351.92 278.1,352.06 280.52,352.21 282.94,352.36 285.36,352.5 287.78,352.64 290.2,352.79 292.62,352.93 295.04,353.08 297.46,353.22 299.88,353.36 302.3,353.51 304.72,353.65 307.14,353.79 309.56,353.93 311.98,354.07 314.4,354.22 316.82,354.36 319.24,354.5 321.66,354.64 324.08,354.78 326.5,354.92" stroke="#0000ff" stroke-width="2.4"/>
<polyline points="38.5,420.65 40.92,420.81 43.34,420.97 45.76,421.12 48.18,421.28 50.6,421.43 53.02,421.57 55.44,421.72 57.86,421.86 60.28,422 62.7,422.13 65.12,422.26 67.54,422.39 69.96,422.52 72.38,422.64 74.8,422.77 77.22,422.88 79.64,423 82.06,423.11 84.48,423.23 86.9,423.34 89.32,423.44 91.74,423.55 94.16,423.65 96.58,423.75 99,423.85 101.42,423.95 103.84,424.04 106.26,424.13 108.68,424.22 111.11,424.31 113.53,424.4 115.95,424.48 118.37,424.57 120.79,424.65 123.21,424.73 125.63,424.81 128.05,424.88 130.47,424.96 132.89,425.03 135.31,425.1 137.73,425.18 140.15,425.24 142.57,425.31 144.99,425.38 147.41,425.44 149.83,425.51 152.25,425.57 154.67,425.63 157.09,425.69 159.51,425.75 161.93,425.8 164.35,425.86 166.77,425.91 169.19,425.97 171.61,426.02 174.03,426.07 176.45,426.12 178.87,426.17 181.29,426.22 183.71,426.27 186.13,426.31 188.55,426.36 190.97,426.4 193.39,426.45 195.81,426.49 198.23,426.53 200.65,426.57 203.07,426.61 205.49,426.65 207.91,426.69 210.33,426.73 212.75,426.76 215.17,426.8 217.59,426.84 220.01,426.87 222.43,426.9 224.85,426.94 227.27,426.97 229.69,427 232.11,427.03 234.53,427.06 236.95,427.09 239.37,427.12 241.79,427.15 244.21,427.18 246.63,427.21 249.05,427.23 251.47,427.26 253.89,427.28 256.32,427.31 258.74,427.33 261.16,427.36 263.58,427.38 266,427.41 268.42,427.43 270.84,427.45 273.26,427.47 275.68,427.49 278.1,427.51 280.52,427.54 282.94,427.56 285.36,427.57 287.78,427.59 290.2,427.61 292.62,427.63 295.04,427.65 297.46,427.67 299.88,427.68 302.3,427.7 304.72,427.72 307.14,427.73 309.56,427.75 311.98,427.77 314.4,427.78 316.82,427.8 319.24,427.81 321.66,427.82 324.08,427.84 326.5,427.85" stroke="#00ff00" stroke-width="2.4"/>
</g>
<g font-size="10.8" fill="#262626">
<text x="38.5" y="443.8" text-anchor="middle">0</text>
<text x="78.64" y="443.8" text-anchor="middle">5</text>
<text x="118.79" y="443.8" text-anchor="middle">10</text>
<text x="158.94" y="443.8" text-anchor="middle">15</text>
<text x="199.08" y="443.8" text-anchor="middle">20</text>
<text x="239.22" y="443.8" text-anchor="middle">25</text>
<text x="279.37" y="443.8" text-anchor="middle">30</text>
<text x="319.51" y="443.8" text-anchor="middle">35</text>
<text x="32.7" y="433.25" text-anchor="end">0</text>
<text x="32.7" y="407.07" text-anchor="end">20</text>
<text x="32.7" y="380.89" text-anchor="end">40</text>
<text x="32.7" y="354.71" text-anchor="end">60</text>
<text x="32.7" y="328.53" text-anchor="end">80</text>
<text x="32.7" y="302.35" text-anchor="end">100</text>
<text x="32.7" y="276.17" text-anchor="end">120</text>
</g>
<text x="182.5" y="460.1" font-size="12.15" fill="#262626" text-anchor="middle">time (min)</text>
<text transform="translate(8.3 342) rotate(-90)" font-size="12.15" fill="#262626" text-anchor="middle">cps</text>
<text x="182.5" y="250.4" font-size="12.4" font-weight="bold" fill="#000" text-anchor="middle">T2</text>
</g>
<g>
<path d="M416.5 255.5V428.5M477 255.5V428.5M537.5 255.5V428.5M598 255.5V428.5M658.5 255.5V428.5" stroke="#262626" stroke-opacity="0.09" stroke-width="1" fill="none"/>
<path d="M416.5 428.5H705.5M416.5 398.28H705.5M416.5 368.06H705.5M416.5 337.84H705.5M416.5 307.62H705.5M416.5 277.4H705.5" stroke="#262626" stroke-opacity="0.09" stroke-width="1" fill="none"/>
<rect x="416.5" y="255.5" width="289" height="173" fill="none" stroke="#a2a2a2" stroke-width="1"/>
<path d="M477 428.5v-3M477 255.5v3M537.5 428.5v-3M537.5 255.5v3M598 428.5v-3M598 255.5v3M658.5 428.5v-3M658.5 255.5v3M416.5 398.28h3M705.5 398.28h-3M416.5 368.06h3M705.5 368.06h-3M416.5 337.84h3M705.5 337.84h-3M416.5 307.62h3M705.5 307.62h-3M416.5 277.4h3M705.5 277.4h-3" stroke="#5c5c5c" stroke-width="1" fill="none"/>
<clipPath id="c3"><rect x="416.2" y="255.2" width="289.8" height="174.9"/></clipPath>
<g clip-path="url(#c3)" fill="none" stroke-linejoin="round" stroke-linecap="butt">
<polyline points="416.54,309.43 417.14,304.88 417.74,302.32 418.34,301.74 418.94,304.45 419.54,307.21 420.14,305.86 420.74,301.68 421.34,297.48 421.94,295.85 422.54,295.37 423.14,295.04 423.74,294.89 424.34,296.8 424.94,303.13 425.54,309.79 426.14,315.73 426.74,321.74 427.34,324.92 427.94,322.58 428.54,318.05 429.14,317.89 429.74,321.72 430.34,325.6 430.94,325.96 431.54,322.85 432.14,318.6 432.74,314.57 433.34,309.6 433.94,305.35 434.54,303.78 435.14,304.3 435.74,305.55 436.34,307.38 436.94,313.88 437.54,322.52 438.14,327.06 438.74,330.27 439.34,330.44 439.94,324.42 440.54,320.02 441.14,326.83 441.74,330.38 442.34,327.26 442.94,321.78 443.54,315.23 444.14,304.34 444.74,293.81 445.34,286.48 445.94,281.15 446.54,283.18 447.14,294.5 447.74,300.51 448.34,301.24 448.94,301.75 449.54,303.71 450.14,312.06 450.74,320.23 451.34,320.58 451.94,315.9 452.54,309.85 453.14,304.87 453.74,299.45 454.34,295.37 454.94,294.62 455.54,294.79 456.14,295.14 456.74,296.95 457.34,302.71 457.94,307.12 458.54,306.67 459.14,304.71 459.74,302.73 460.34,301.49 460.94,300.48 461.54,301.04 462.14,308.6 462.74,317.49 463.34,319.55 463.94,314.02 464.54,307.78 465.14,307.88 465.74,315.56 466.34,323.18 466.94,325.2 467.54,326.16 468.14,325.98 468.74,320.8 469.34,313.22 469.94,307.57 470.54,303.35 471.14,303.79 471.74,308.75 472.34,315.55 472.94,323.11 473.54,330.53 474.14,326.51 474.74,317.25 475.34,311.01 475.94,312.25 476.54,315.85 477.14,318.48 477.74,317.74 478.34,314.89 478.94,311.69 479.54,308.28 480.14,304.36 480.74,301.5 481.34,301.52 481.94,306.38 482.54,313.29 483.14,318.93 483.74,323.67 484.34,328.5 484.94,335 485.54,340.41 486.14,339.06 486.74,331.37 487.34,322.7 487.94,315.9 488.54,309.62 489.14,305.77 489.74,302.74 490.34,300.49 490.94,299.54 491.54,302.53 492.14,309.67 492.74,316.6 493.34,321.97 493.94,326.39 494.54,326.44 495.14,322.73 495.74,318.25 496.34,315.07 496.94,312.21 497.54,309.72 498.14,307.38 498.74,305.48 499.34,306.68 499.94,313.74 500.54,317.08 501.14,313.01 501.74,308.87 502.34,312.06 502.94,320.87 503.54,327.43 504.14,326.26 504.74,322.47 505.34,322.66 505.94,331.59 506.54,337.24 507.14,335.16 507.74,330.68 508.34,323.98 508.94,312.98 509.54,308.92 510.14,313.75 510.74,321.33 511.34,326.66 511.94,325.33 512.54,318.45 513.14,310.22 513.74,304.89 514.34,306.64 514.94,314.2 515.54,320.71 516.14,320.54 516.74,316.82 517.34,313.42 517.94,313.99 518.54,318.69 519.14,322.6 519.74,321.3 520.34,316.56 520.94,313.05 521.54,312.29 522.14,311.77 522.74,311.55 523.34,314.95 523.94,323.35 524.54,329.37 525.14,326.36 525.74,316.91 526.34,308.87 526.94,304.53 527.54,301.12 528.14,299.99 528.74,301.34 529.34,303.62 529.94,305.27 530.54,305.97 531.14,306.51 531.74,307.33 532.34,309.28 532.94,312.16 533.54,314.89 534.14,317.92 534.74,320.91 535.34,322.71 535.94,320.2 536.54,310.48 537.14,301.97 537.74,303.84 538.34,315.82 538.94,325.25 539.54,325.54 540.14,325.05 540.74,324.3 541.34,321.34 541.94,315.69 542.54,310.48 543.14,308.79 543.74,311.14 544.34,315.03 544.94,318.35 545.54,321.8 546.14,323.55 546.74,320.49 547.34,315.11 547.94,313.06 548.54,316.24 549.14,320.86 549.74,322.81 550.34,320.27 550.94,316.27 551.54,314.38 552.14,316.62 552.74,320.17 553.34,321.3 553.94,318.27 554.54,313.6 555.14,310.37 555.74,310.22 556.34,310.6 556.94,311.26 557.54,314.45 558.14,324.48 558.74,334.24 559.34,336.04 559.94,328.9 560.54,318.58 561.14,311.04 561.74,310.84 562.34,314.12 562.94,317.59 563.54,318.46 564.14,316.18 564.74,313.25 565.34,312.33 565.94,314.01 566.54,316.3 567.14,317.15 567.74,315.36 568.34,312.92 568.94,312.26 569.54,312.36 570.14,312.57 570.74,312.89 571.34,314.6 571.94,318.86 572.54,323.38 573.14,326.9 573.74,330.64 574.34,333.8 574.94,335.48 575.54,333.59 576.14,326.83 576.74,318.89 577.34,313.5 577.94,309.54 578.54,307.35 579.14,309.14 579.74,313.98 580.34,318.74 580.94,323.31 581.54,326.8 582.14,326.54 582.74,324.64 583.34,323.02 583.94,324.72 584.54,331.02 585.14,333.24 585.74,329.76 586.34,324.55 586.94,320.88 587.54,318.61 588.14,316.76 588.74,315.19 589.34,313.65 589.94,312.96 590.54,314.26 591.14,317.22 591.74,320.88 592.34,327.5 592.94,329.48 593.54,324.07 594.14,316.88 594.74,312.52 595.34,309.21 595.94,308.09 596.54,311.37 597.14,316.34 597.74,318.58 598.34,314.16 598.94,306.84 599.54,303.07 600.14,313.55 600.74,331.45 601.34,338.11 601.94,331.06 602.54,321.54 603.14,318.24 603.74,317.48 604.34,317.2 604.94,321.71 605.54,327.88 606.14,326.84 606.74,326.09 607.34,325.72 607.94,326.37 608.54,331.15 609.14,334.14 609.74,329.51 610.34,321.47 610.94,317.2 611.54,319.67 612.14,324.33 612.74,327.07 613.34,325.53 613.94,322.37 614.54,320.69 615.14,320.43 615.74,320.28 616.34,320.12 616.94,319.85 617.54,319.48 618.14,318.95 618.74,317.78 619.34,314.81 619.94,312.43 620.54,314.02 621.14,320.53 621.74,327.73 622.34,334.12 622.94,340.8 623.54,344.61 624.14,341.43 624.74,332.65 625.34,325.62 625.94,319.18 626.54,316.52 627.14,319.16 627.74,324.14 628.34,328.61 628.94,332.49 629.54,335.33 630.14,333.46 630.74,325.96 631.34,319.12 631.94,315.82 632.54,313.26 633.14,312.25 633.74,313.51 634.34,316.42 634.94,319.96 635.54,324.6 636.14,330.49 636.74,337.22 637.34,342.61 637.94,339.26 638.54,332.58 639.14,328.53 639.74,329.45 640.34,331.07 640.94,329.59 641.54,322.51 642.14,319.44 642.74,322.76 643.34,327.83 643.94,333.36 644.54,338.84 645.14,337.42 645.74,324.98 646.34,316.75 646.94,314.25 647.54,313.01 648.14,314.42 648.74,317.78 649.34,317.47 649.94,310.19 650.54,305.92 651.14,308.12 651.74,312.27 652.34,315.83 652.94,318.49 653.54,320.73 654.14,321.31 654.74,318.19 655.34,315.17 655.94,318.5 656.54,326.76 657.14,331.32 657.74,329.76 658.34,326.39 658.94,322.99 659.54,319.65 660.14,316.83 660.74,317.56 661.34,322.66 661.94,328.98 662.54,334.13 663.14,339.32 663.74,340.97 664.34,334.07 664.94,327.28 665.54,331.35 666.14,340.08 666.74,339.79 667.34,327.17 667.94,315.53 668.54,315.52 669.14,320.15 669.74,325.07 670.34,328.66 670.94,332.11 671.54,334.06 672.14,333.65 672.74,331.83 673.34,329.27 673.94,325.51 674.54,319.57 675.14,314.71 675.74,312.13 676.34,310.38 676.94,311.12 677.54,316.09 678.14,320.4 678.74,319.88 679.34,317.01 679.94,314.6 680.54,314.37 681.14,314.37 681.74,314.37 682.34,313.39 682.94,309.61 683.54,308.18 684.14,311.42 684.74,315.77 685.34,317.52 685.94,317.97 686.54,318.68 687.14,324.3 687.74,330.79 688.34,330.94 688.94,329.4 689.54,327.35 690.14,324.24 690.74,319.93 691.34,317.28 691.94,323.1 692.54,335.6 693.14,337.19 693.74,329.47 694.34,321.22 694.94,320.2 695.54,327.3 696.14,334.54 696.74,335.26 697.34,333.91 697.94,332.79 698.54,333.37 699.14,335.3 699.74,336.84 700.34,336.24 700.94,333.33 701.54,329.69 702.14,326.1 702.74,322.03 703.34,321.11 703.94,326.64 704.54,331.28 705.14,330.94" stroke="#000" stroke-width="2.3"/>
<polyline points="416.5,310.76 418.93,310.92 421.36,311.09 423.79,311.25 426.21,311.41 428.64,311.57 431.07,311.73 433.5,311.89 435.93,312.05 438.36,312.21 440.79,312.37 443.21,312.52 445.64,312.68 448.07,312.84 450.5,313 452.93,313.16 455.36,313.31 457.79,313.47 460.21,313.63 462.64,313.78 465.07,313.94 467.5,314.1 469.93,314.25 472.36,314.41 474.79,314.56 477.21,314.72 479.64,314.87 482.07,315.03 484.5,315.18 486.93,315.33 489.36,315.49 491.79,315.64 494.21,315.79 496.64,315.95 499.07,316.1 501.5,316.25 503.93,316.4 506.36,316.55 508.79,316.71 511.21,316.86 513.64,317.01 516.07,317.16 518.5,317.31 520.93,317.46 523.36,317.61 525.79,317.76 528.21,317.91 530.64,318.06 533.07,318.2 535.5,318.35 537.93,318.5 540.36,318.65 542.79,318.8 545.21,318.94 547.64,319.09 550.07,319.24 552.5,319.38 554.93,319.53 557.36,319.68 559.79,319.82 562.21,319.97 564.64,320.11 567.07,320.26 569.5,320.41 571.93,320.55 574.36,320.69 576.79,320.84 579.21,320.98 581.64,321.13 584.07,321.27 586.5,321.41 588.93,321.56 591.36,321.7 593.79,321.84 596.21,321.98 598.64,322.13 601.07,322.27 603.5,322.41 605.93,322.55 608.36,322.69 610.79,322.83 613.21,322.98 615.64,323.12 618.07,323.26 620.5,323.4 622.93,323.54 625.36,323.68 627.79,323.82 630.21,323.95 632.64,324.09 635.07,324.23 637.5,324.37 639.93,324.51 642.36,324.65 644.79,324.78 647.21,324.92 649.64,325.06 652.07,325.2 654.5,325.33 656.93,325.47 659.36,325.61 661.79,325.74 664.21,325.88 666.64,326.02 669.07,326.15 671.5,326.29 673.93,326.42 676.36,326.56 678.79,326.69 681.21,326.83 683.64,326.96 686.07,327.1 688.5,327.23 690.93,327.36 693.36,327.5 695.79,327.63 698.21,327.76 700.64,327.9 703.07,328.03 705.5,328.16" stroke="#800080" stroke-width="2.4"/>
<polyline points="416.5,426.45 418.93,426.46 421.36,426.47 423.79,426.49 426.21,426.5 428.64,426.51 431.07,426.53 433.5,426.54 435.93,426.55 438.36,426.57 440.79,426.58 443.21,426.59 445.64,426.61 448.07,426.62 450.5,426.63 452.93,426.65 455.36,426.66 457.79,426.67 460.21,426.68 462.64,426.7 465.07,426.71 467.5,426.72 469.93,426.73 472.36,426.74 474.79,426.76 477.21,426.77 479.64,426.78 482.07,426.79 484.5,426.8 486.93,426.81 489.36,426.83 491.79,426.84 494.21,426.85 496.64,426.86 499.07,426.87 501.5,426.88 503.93,426.89 506.36,426.9 508.79,426.91 511.21,426.93 513.64,426.94 516.07,426.95 518.5,426.96 520.93,426.97 523.36,426.98 525.79,426.99 528.21,427 530.64,427.01 533.07,427.02 535.5,427.03 537.93,427.04 540.36,427.05 542.79,427.06 545.21,427.07 547.64,427.08 550.07,427.09 552.5,427.1 554.93,427.11 557.36,427.12 559.79,427.13 562.21,427.14 564.64,427.15 567.07,427.15 569.5,427.16 571.93,427.17 574.36,427.18 576.79,427.19 579.21,427.2 581.64,427.21 584.07,427.22 586.5,427.23 588.93,427.23 591.36,427.24 593.79,427.25 596.21,427.26 598.64,427.27 601.07,427.28 603.5,427.29 605.93,427.29 608.36,427.3 610.79,427.31 613.21,427.32 615.64,427.33 618.07,427.33 620.5,427.34 622.93,427.35 625.36,427.36 627.79,427.37 630.21,427.37 632.64,427.38 635.07,427.39 637.5,427.4 639.93,427.4 642.36,427.41 644.79,427.42 647.21,427.43 649.64,427.43 652.07,427.44 654.5,427.45 656.93,427.46 659.36,427.46 661.79,427.47 664.21,427.48 666.64,427.48 669.07,427.49 671.5,427.5 673.93,427.5 676.36,427.51 678.79,427.52 681.21,427.52 683.64,427.53 686.07,427.54 688.5,427.54 690.93,427.55 693.36,427.56 695.79,427.56 698.21,427.57 700.64,427.58 703.07,427.58 705.5,427.59" stroke="#ff0000" stroke-width="2.4"/>
<polyline points="416.5,312.91 418.93,313.05 421.36,313.2 423.79,313.35 426.21,313.49 428.64,313.64 431.07,313.78 433.5,313.93 435.93,314.07 438.36,314.22 440.79,314.36 443.21,314.51 445.64,314.65 448.07,314.8 450.5,314.94 452.93,315.09 455.36,315.23 457.79,315.37 460.21,315.52 462.64,315.66 465.07,315.8 467.5,315.94 469.93,316.09 472.36,316.23 474.79,316.37 477.21,316.51 479.64,316.66 482.07,316.8 484.5,316.94 486.93,317.08 489.36,317.22 491.79,317.36 494.21,317.5 496.64,317.64 499.07,317.78 501.5,317.92 503.93,318.06 506.36,318.2 508.79,318.34 511.21,318.48 513.64,318.62 516.07,318.76 518.5,318.9 520.93,319.04 523.36,319.18 525.79,319.32 528.21,319.45 530.64,319.59 533.07,319.73 535.5,319.87 537.93,320.01 540.36,320.14 542.79,320.28 545.21,320.42 547.64,320.55 550.07,320.69 552.5,320.83 554.93,320.96 557.36,321.1 559.79,321.24 562.21,321.37 564.64,321.51 567.07,321.64 569.5,321.78 571.93,321.91 574.36,322.05 576.79,322.18 579.21,322.32 581.64,322.45 584.07,322.59 586.5,322.72 588.93,322.86 591.36,322.99 593.79,323.12 596.21,323.26 598.64,323.39 601.07,323.52 603.5,323.66 605.93,323.79 608.36,323.92 610.79,324.05 613.21,324.19 615.64,324.32 618.07,324.45 620.5,324.58 622.93,324.71 625.36,324.84 627.79,324.98 630.21,325.11 632.64,325.24 635.07,325.37 637.5,325.5 639.93,325.63 642.36,325.76 644.79,325.89 647.21,326.02 649.64,326.15 652.07,326.28 654.5,326.41 656.93,326.54 659.36,326.67 661.79,326.8 664.21,326.93 666.64,327.05 669.07,327.18 671.5,327.31 673.93,327.44 676.36,327.57 678.79,327.7 681.21,327.82 683.64,327.95 686.07,328.08 688.5,328.2 690.93,328.33 693.36,328.46 695.79,328.59 698.21,328.71 700.64,328.84 703.07,328.96 705.5,329.09" stroke="#0000ff" stroke-width="2.4"/>
<polyline points="416.5,428.41 418.93,428.41 421.36,428.41 423.79,428.41 426.21,428.41 428.64,428.42 431.07,428.42 433.5,428.42 435.93,428.42 438.36,428.42 440.79,428.42 443.21,428.42 445.64,428.42 448.07,428.42 450.5,428.43 452.93,428.43 455.36,428.43 457.79,428.43 460.21,428.43 462.64,428.43 465.07,428.43 467.5,428.43 469.93,428.43 472.36,428.43 474.79,428.44 477.21,428.44 479.64,428.44 482.07,428.44 484.5,428.44 486.93,428.44 489.36,428.44 491.79,428.44 494.21,428.44 496.64,428.44 499.07,428.44 501.5,428.44 503.93,428.45 506.36,428.45 508.79,428.45 511.21,428.45 513.64,428.45 516.07,428.45 518.5,428.45 520.93,428.45 523.36,428.45 525.79,428.45 528.21,428.45 530.64,428.45 533.07,428.45 535.5,428.45 537.93,428.45 540.36,428.46 542.79,428.46 545.21,428.46 547.64,428.46 550.07,428.46 552.5,428.46 554.93,428.46 557.36,428.46 559.79,428.46 562.21,428.46 564.64,428.46 567.07,428.46 569.5,428.46 571.93,428.46 574.36,428.46 576.79,428.46 579.21,428.46 581.64,428.46 584.07,428.47 586.5,428.47 588.93,428.47 591.36,428.47 593.79,428.47 596.21,428.47 598.64,428.47 601.07,428.47 603.5,428.47 605.93,428.47 608.36,428.47 610.79,428.47 613.21,428.47 615.64,428.47 618.07,428.47 620.5,428.47 622.93,428.47 625.36,428.47 627.79,428.47 630.21,428.47 632.64,428.47 635.07,428.47 637.5,428.47 639.93,428.47 642.36,428.48 644.79,428.48 647.21,428.48 649.64,428.48 652.07,428.48 654.5,428.48 656.93,428.48 659.36,428.48 661.79,428.48 664.21,428.48 666.64,428.48 669.07,428.48 671.5,428.48 673.93,428.48 676.36,428.48 678.79,428.48 681.21,428.48 683.64,428.48 686.07,428.48 688.5,428.48 690.93,428.48 693.36,428.48 695.79,428.48 698.21,428.48 700.64,428.48 703.07,428.48 705.5,428.48" stroke="#00ff00" stroke-width="2.4"/>
</g>
<g font-size="10.8" fill="#262626">
<text x="416.5" y="443.8" text-anchor="middle">0</text>
<text x="477" y="443.8" text-anchor="middle">5</text>
<text x="537.5" y="443.8" text-anchor="middle">10</text>
<text x="598" y="443.8" text-anchor="middle">15</text>
<text x="658.5" y="443.8" text-anchor="middle">20</text>
<text x="411.7" y="433.25" text-anchor="end">0</text>
<text x="411.7" y="403.03" text-anchor="end">10</text>
<text x="411.7" y="372.81" text-anchor="end">20</text>
<text x="411.7" y="342.59" text-anchor="end">30</text>
<text x="411.7" y="312.37" text-anchor="end">40</text>
<text x="411.7" y="282.15" text-anchor="end">50</text>
</g>
<text x="561" y="460.1" font-size="12.15" fill="#262626" text-anchor="middle">time (min)</text>
<text transform="translate(392.7 342) rotate(-90)" font-size="12.15" fill="#262626" text-anchor="middle">cps</text>
<text x="561" y="250.4" font-size="12.4" font-weight="bold" fill="#000" text-anchor="middle">T2 washed</text>
</g>
<g>
<path d="M38.5 496.5V668.9M85.5 496.5V668.9M132.5 496.5V668.9M179.5 496.5V668.9M226.5 496.5V668.9M273.5 496.5V668.9M320.5 496.5V668.9" stroke="#262626" stroke-opacity="0.09" stroke-width="1" fill="none"/>
<path d="M38.5 668.9H326.5M38.5 630.4H326.5M38.5 591.9H326.5M38.5 553.4H326.5M38.5 514.9H326.5" stroke="#262626" stroke-opacity="0.09" stroke-width="1" fill="none"/>
<rect x="38.5" y="496.5" width="288" height="172.4" fill="none" stroke="#a2a2a2" stroke-width="1"/>
<path d="M85.5 668.9v-3M85.5 496.5v3M132.5 668.9v-3M132.5 496.5v3M179.5 668.9v-3M179.5 496.5v3M226.5 668.9v-3M226.5 496.5v3M273.5 668.9v-3M273.5 496.5v3M320.5 668.9v-3M320.5 496.5v3M38.5 630.4h3M326.5 630.4h-3M38.5 591.9h3M326.5 591.9h-3M38.5 553.4h3M326.5 553.4h-3M38.5 514.9h3M326.5 514.9h-3" stroke="#5c5c5c" stroke-width="1" fill="none"/>
<clipPath id="c4"><rect x="38.2" y="496.2" width="288.8" height="174.3"/></clipPath>
<g clip-path="url(#c4)" fill="none" stroke-linejoin="round" stroke-linecap="butt">
<polyline points="38.12,518.17 38.92,511.51 39.72,510.57 40.52,514.22 41.32,519.49 42.12,519.94 42.92,515.1 43.72,515.34 44.52,519.64 45.32,517.55 46.12,514.94 46.92,515.98 47.72,518 48.52,517.42 49.32,514.66 50.12,516.14 50.92,519.92 51.72,520.21 52.52,516.78 53.32,516.11 54.12,519.2 54.92,518.59 55.72,516.91 56.52,515.92 57.32,516.49 58.12,518.51 58.92,522.17 59.72,524.97 60.52,526.64 61.32,526.62 62.12,524.82 62.92,522.04 63.72,519.74 64.52,518.83 65.32,519.45 66.12,520 66.92,522.01 67.72,524.88 68.52,524.37 69.32,526.98 70.12,523.75 70.92,520.5 71.72,520.25 72.52,519.86 73.32,521.53 74.12,522.28 74.92,523.07 75.72,521.7 76.52,520.11 77.32,521.62 78.12,524.49 78.92,526.57 79.72,528.88 80.52,530.08 81.32,531.03 82.12,527.04 82.92,522.74 83.72,524.31 84.52,528.6 85.32,527.95 86.12,523.24 86.92,523.95 87.72,522.08 88.52,523.59 89.32,528.22 90.12,527.52 90.92,528.45 91.72,529.95 92.52,527.43 93.32,527.14 94.12,527.14 94.92,526.52 95.72,526.16 96.52,525.7 97.32,527.7 98.12,531.26 98.92,533.97 99.72,535.78 100.52,535.9 101.32,529.52 102.12,531.17 102.92,533.72 103.72,537.07 104.52,533.95 105.32,529.65 106.12,530.89 106.92,531.33 107.72,531.35 108.52,529.84 109.32,531.58 110.12,532.79 110.92,533.78 111.72,535.57 112.52,535.1 113.32,538.17 114.12,540.26 114.92,538.63 115.72,531.82 116.52,532.03 117.32,530.75 118.12,531.82 118.92,534.32 119.72,534.56 120.52,535.77 121.32,538 122.12,541.48 122.92,545.28 123.72,545.58 124.52,538.93 125.32,533.57 126.12,533.29 126.92,531.67 127.72,536.14 128.52,540.86 129.32,538.61 130.12,537.09 130.92,535.32 131.72,534.83 132.52,535.24 133.32,542.7 134.12,542.77 134.92,542.81 135.72,542.85 136.52,542.89 137.32,542.93 138.12,542.97 138.92,543 139.72,543.04 140.52,543.08 141.32,543.11 142.12,543.15 142.92,543.18 143.72,543.22 144.52,543.25 145.32,543.28 146.12,543.31 146.92,543.35 147.72,543.38 148.52,543.41 149.32,543.44 150.12,543.47 150.92,543.5 151.72,543.52 152.52,543.55 153.32,543.58 154.12,543.61 154.92,543.63 155.72,543.66 156.52,543.69 157.32,543.71 158.12,543.74 158.92,543.76 159.72,543.78 160.52,543.81 161.32,543.83 162.12,543.85 162.92,543.87 163.72,543.89 164.52,543.92 165.32,543.94 166.12,543.96 166.92,543.98 167.72,543.99 168.52,544.01 169.32,544.03 170.12,544.05 170.92,544.07 171.72,544.08 172.52,544.1 173.32,544.12 174.12,544.13 174.92,544.15 175.72,544.16 176.52,544.18 177.32,544.19 178.12,544.21 178.92,544.22 179.72,544.23 180.52,544.25 181.32,544.26 182.12,544.27 182.92,544.28 183.72,544.3 184.52,544.31 185.32,544.32 186.12,544.33 186.92,544.34 187.72,544.35 188.52,544.36 189.32,544.37 190.12,544.38 190.92,544.39 191.72,544.39 192.52,544.4 193.32,544.41 194.12,544.42 194.92,544.43 195.72,544.43 196.52,544.44 197.32,544.45 198.12,544.45 198.92,544.46 199.72,544.47 200.52,544.47 201.32,544.48 202.12,544.48 202.92,544.49 203.72,544.49 204.52,544.5 205.32,544.5 206.12,544.5 206.92,544.51 207.72,544.51 208.52,544.51 209.32,544.52 210.12,544.52 210.92,544.52 211.72,544.53 212.52,544.53 213.32,544.53 214.12,544.53 214.92,544.54 215.72,544.54 216.52,544.54 217.32,544.54 218.12,544.54 218.92,544.54 219.72,544.54 220.52,544.55 221.32,544.55 222.12,544.55 222.92,544.55 223.72,544.55 224.52,544.55 225.32,544.55 226.12,544.55 226.92,544.55 227.72,544.55 228.52,544.55 229.32,544.55 230.12,544.55 230.92,545.23 231.72,555.94 232.52,558.8 233.32,557.77 234.12,553.86 234.92,553.92 235.72,556.03 236.52,555.37 237.32,555.14 238.12,554.96 238.92,555.78 239.72,556.64 240.52,555.66 241.32,553.76 242.12,552.28 242.92,553.11 243.72,552.55 244.52,550.62 245.32,550.86 246.12,551.61 246.92,553.94 247.72,555.35 248.52,554.64 249.32,556 250.12,557.7 250.92,559.17 251.72,558.79 252.52,559.19 253.32,556.86 254.12,554.82 254.92,556.55 255.72,558.82 256.52,557.36 257.32,555.59 258.12,553.68 258.92,553.98 259.72,556.33 260.52,559.6 261.32,560.55 262.12,559.8 262.92,557.03 263.72,558.13 264.52,560.45 265.32,560.03 266.12,558.43 266.92,557.17 267.72,559.5 268.52,563.15 269.32,564.78 270.12,560.54 270.92,558.97 271.72,556.08 272.52,556.47 273.32,555.85 274.12,556.3 274.92,556.87 275.72,561.91 276.52,562.23 277.32,561.31 278.12,559.06 278.92,558.47 279.72,559.78 280.52,560.19 281.32,558.77 282.12,559.63 282.92,559.23 283.72,563.02 284.52,565 285.32,563.73 286.12,560.34 286.92,559 287.72,558.18 288.52,557.95 289.32,562.19 290.12,562.8 290.92,558.76 291.72,557.85 292.52,562 293.32,566.41 294.12,564.4 294.92,559.85 295.72,561.54 296.52,561.61 297.32,562.5 298.12,560.37 298.92,560.77 299.72,564.36 300.52,568.42 301.32,567.06 302.12,562.82 302.92,561.48 303.72,559.66 304.52,559.69 305.32,563.69 306.12,569.99 306.92,568.07 307.72,565.82 308.52,563.72 309.32,565.66 310.12,564.4 310.92,566.52 311.72,565.98 312.52,566.32 313.32,563.5 314.12,559.95 314.92,560.78 315.72,562.08 316.52,563.01 317.32,562.94 318.12,564.08 318.92,562.56 319.72,564.7 320.52,567 321.32,566.08 322.12,563.78 322.92,564.19 323.72,562.66 324.52,565.04 325.32,569.13 326.12,568.26" stroke="#000" stroke-width="2.0"/>
<polyline points="38.5,515.79 40.92,516.43 43.34,517.07 45.76,517.7 48.18,518.33 50.6,518.95 53.02,519.57 55.44,520.18 57.86,520.78 60.28,521.39 62.7,521.98 65.12,522.57 67.54,523.16 69.96,523.74 72.38,524.31 74.8,524.88 77.22,525.45 79.64,526.01 82.06,526.57 84.48,527.12 86.9,527.67 89.32,528.21 91.74,528.75 94.16,529.28 96.58,529.81 99,530.34 101.42,530.86 103.84,531.38 106.26,531.89 108.68,532.4 111.11,532.91 113.53,533.41 115.95,533.9 118.37,534.4 120.79,534.89 123.21,535.37 125.63,535.85 128.05,536.33 130.47,536.81 132.89,537.28 135.31,537.74 137.73,538.21 140.15,538.67 142.57,539.12 144.99,539.58 147.41,540.03 149.83,540.47 152.25,540.92 154.67,541.36 157.09,541.79 159.51,542.23 161.93,542.66 164.35,543.08 166.77,543.51 169.19,543.93 171.61,544.34 174.03,544.76 176.45,545.17 178.87,545.58 181.29,545.99 183.71,546.39 186.13,546.79 188.55,547.19 190.97,547.58 193.39,547.97 195.81,548.36 198.23,548.75 200.65,549.13 203.07,549.51 205.49,549.89 207.91,550.27 210.33,550.64 212.75,551.01 215.17,551.38 217.59,551.75 220.01,552.11 222.43,552.47 224.85,552.83 227.27,553.19 229.69,553.54 232.11,553.89 234.53,554.24 236.95,554.59 239.37,554.94 241.79,555.28 244.21,555.62 246.63,555.96 249.05,556.29 251.47,556.63 253.89,556.96 256.32,557.29 258.74,557.62 261.16,557.94 263.58,558.27 266,558.59 268.42,558.91 270.84,559.23 273.26,559.54 275.68,559.86 278.1,560.17 280.52,560.48 282.94,560.79 285.36,561.09 287.78,561.4 290.2,561.7 292.62,562 295.04,562.3 297.46,562.6 299.88,562.89 302.3,563.19 304.72,563.48 307.14,563.77 309.56,564.06 311.98,564.35 314.4,564.63 316.82,564.92 319.24,565.2 321.66,565.48 324.08,565.76 326.5,566.04" stroke="#800080" stroke-width="2.4"/>
<polyline points="38.5,631.55 40.92,631.88 43.34,632.2 45.76,632.52 48.18,632.84 50.6,633.16 53.02,633.47 55.44,633.78 57.86,634.08 60.28,634.39 62.7,634.69 65.12,634.99 67.54,635.28 69.96,635.58 72.38,635.87 74.8,636.16 77.22,636.44 79.64,636.72 82.06,637 84.48,637.28 86.9,637.56 89.32,637.83 91.74,638.1 94.16,638.37 96.58,638.64 99,638.9 101.42,639.16 103.84,639.42 106.26,639.68 108.68,639.94 111.11,640.19 113.53,640.44 115.95,640.69 118.37,640.93 120.79,641.18 123.21,641.42 125.63,641.66 128.05,641.9 130.47,642.13 132.89,642.37 135.31,642.6 137.73,642.83 140.15,643.05 142.57,643.28 144.99,643.5 147.41,643.73 149.83,643.94 152.25,644.16 154.67,644.38 157.09,644.59 159.51,644.8 161.93,645.01 164.35,645.22 166.77,645.43 169.19,645.63 171.61,645.84 174.03,646.04 176.45,646.24 178.87,646.44 181.29,646.63 183.71,646.83 186.13,647.02 188.55,647.21 190.97,647.4 193.39,647.59 195.81,647.77 198.23,647.96 200.65,648.14 203.07,648.32 205.49,648.5 207.91,648.68 210.33,648.85 212.75,649.03 215.17,649.2 217.59,649.37 220.01,649.55 222.43,649.71 224.85,649.88 227.27,650.05 229.69,650.21 232.11,650.38 234.53,650.54 236.95,650.7 239.37,650.86 241.79,651.01 244.21,651.17 246.63,651.32 249.05,651.48 251.47,651.63 253.89,651.78 256.32,651.93 258.74,652.08 261.16,652.22 263.58,652.37 266,652.51 268.42,652.66 270.84,652.8 273.26,652.94 275.68,653.08 278.1,653.22 280.52,653.35 282.94,653.49 285.36,653.62 287.78,653.76 290.2,653.89 292.62,654.02 295.04,654.15 297.46,654.28 299.88,654.41 302.3,654.53 304.72,654.66 307.14,654.78 309.56,654.91 311.98,655.03 314.4,655.15 316.82,655.27 319.24,655.39 321.66,655.51 324.08,655.62 326.5,655.74" stroke="#ff0000" stroke-width="2.4"/>
<polyline points="38.5,561.22 40.92,561.39 43.34,561.57 45.76,561.74 48.18,561.91 50.6,562.09 53.02,562.26 55.44,562.43 57.86,562.61 60.28,562.78 62.7,562.95 65.12,563.12 67.54,563.3 69.96,563.47 72.38,563.64 74.8,563.81 77.22,563.98 79.64,564.15 82.06,564.32 84.48,564.49 86.9,564.66 89.32,564.83 91.74,565 94.16,565.17 96.58,565.34 99,565.5 101.42,565.67 103.84,565.84 106.26,566.01 108.68,566.17 111.11,566.34 113.53,566.51 115.95,566.67 118.37,566.84 120.79,567.01 123.21,567.17 125.63,567.34 128.05,567.5 130.47,567.67 132.89,567.83 135.31,568 137.73,568.16 140.15,568.32 142.57,568.49 144.99,568.65 147.41,568.81 149.83,568.97 152.25,569.14 154.67,569.3 157.09,569.46 159.51,569.62 161.93,569.78 164.35,569.94 166.77,570.11 169.19,570.27 171.61,570.43 174.03,570.59 176.45,570.75 178.87,570.91 181.29,571.06 183.71,571.22 186.13,571.38 188.55,571.54 190.97,571.7 193.39,571.86 195.81,572.01 198.23,572.17 200.65,572.33 203.07,572.49 205.49,572.64 207.91,572.8 210.33,572.95 212.75,573.11 215.17,573.27 217.59,573.42 220.01,573.58 222.43,573.73 224.85,573.89 227.27,574.04 229.69,574.19 232.11,574.35 234.53,574.5 236.95,574.66 239.37,574.81 241.79,574.96 244.21,575.11 246.63,575.27 249.05,575.42 251.47,575.57 253.89,575.72 256.32,575.87 258.74,576.02 261.16,576.18 263.58,576.33 266,576.48 268.42,576.63 270.84,576.78 273.26,576.93 275.68,577.08 278.1,577.22 280.52,577.37 282.94,577.52 285.36,577.67 287.78,577.82 290.2,577.97 292.62,578.11 295.04,578.26 297.46,578.41 299.88,578.56 302.3,578.7 304.72,578.85 307.14,579 309.56,579.14 311.98,579.29 314.4,579.43 316.82,579.58 319.24,579.72 321.66,579.87 324.08,580.01 326.5,580.16" stroke="#0000ff" stroke-width="2.4"/>
<polyline points="38.5,660.81 40.92,660.96 43.34,661.1 45.76,661.24 48.18,661.37 50.6,661.51 53.02,661.64 55.44,661.77 57.86,661.89 60.28,662.02 62.7,662.14 65.12,662.26 67.54,662.38 69.96,662.49 72.38,662.61 74.8,662.72 77.22,662.83 79.64,662.94 82.06,663.04 84.48,663.15 86.9,663.25 89.32,663.35 91.74,663.45 94.16,663.54 96.58,663.64 99,663.73 101.42,663.82 103.84,663.91 106.26,664 108.68,664.09 111.11,664.18 113.53,664.26 115.95,664.34 118.37,664.42 120.79,664.5 123.21,664.58 125.63,664.66 128.05,664.73 130.47,664.81 132.89,664.88 135.31,664.95 137.73,665.02 140.15,665.09 142.57,665.16 144.99,665.22 147.41,665.29 149.83,665.35 152.25,665.42 154.67,665.48 157.09,665.54 159.51,665.6 161.93,665.66 164.35,665.71 166.77,665.77 169.19,665.83 171.61,665.88 174.03,665.93 176.45,665.99 178.87,666.04 181.29,666.09 183.71,666.14 186.13,666.19 188.55,666.24 190.97,666.28 193.39,666.33 195.81,666.38 198.23,666.42 200.65,666.46 203.07,666.51 205.49,666.55 207.91,666.59 210.33,666.63 212.75,666.67 215.17,666.71 217.59,666.75 220.01,666.79 222.43,666.83 224.85,666.86 227.27,666.9 229.69,666.94 232.11,666.97 234.53,667 236.95,667.04 239.37,667.07 241.79,667.1 244.21,667.14 246.63,667.17 249.05,667.2 251.47,667.23 253.89,667.26 256.32,667.29 258.74,667.32 261.16,667.34 263.58,667.37 266,667.4 268.42,667.42 270.84,667.45 273.26,667.48 275.68,667.5 278.1,667.53 280.52,667.55 282.94,667.58 285.36,667.6 287.78,667.62 290.2,667.64 292.62,667.67 295.04,667.69 297.46,667.71 299.88,667.73 302.3,667.75 304.72,667.77 307.14,667.79 309.56,667.81 311.98,667.83 314.4,667.85 316.82,667.87 319.24,667.89 321.66,667.91 324.08,667.92 326.5,667.94" stroke="#00ff00" stroke-width="2.4"/>
</g>
<g font-size="10.8" fill="#262626">
<text x="38.5" y="684.2" text-anchor="middle">0</text>
<text x="85.5" y="684.2" text-anchor="middle">5</text>
<text x="132.5" y="684.2" text-anchor="middle">10</text>
<text x="179.5" y="684.2" text-anchor="middle">15</text>
<text x="226.5" y="684.2" text-anchor="middle">20</text>
<text x="273.5" y="684.2" text-anchor="middle">25</text>
<text x="320.5" y="684.2" text-anchor="middle">30</text>
<text x="32.7" y="673.65" text-anchor="end">0</text>
<text x="32.7" y="635.15" text-anchor="end">100</text>
<text x="32.7" y="596.65" text-anchor="end">200</text>
<text x="32.7" y="558.15" text-anchor="end">300</text>
<text x="32.7" y="519.65" text-anchor="end">400</text>
</g>
<text x="182.5" y="700.5" font-size="12.15" fill="#262626" text-anchor="middle">time (min)</text>
<text transform="translate(8.3 582.7) rotate(-90)" font-size="12.15" fill="#262626" text-anchor="middle">cps</text>
<text x="182.5" y="491.4" font-size="12.4" font-weight="bold" fill="#000" text-anchor="middle">T3</text>
</g>
<g>
<path d="M416.5 496.5V668.9M462.45 496.5V668.9M508.4 496.5V668.9M554.35 496.5V668.9M600.3 496.5V668.9M646.25 496.5V668.9M692.2 496.5V668.9" stroke="#262626" stroke-opacity="0.09" stroke-width="1" fill="none"/>
<path d="M416.5 668.9H705.5M416.5 641.3H705.5M416.5 613.7H705.5M416.5 586.1H705.5M416.5 558.5H705.5M416.5 530.9H705.5M416.5 503.3H705.5" stroke="#262626" stroke-opacity="0.09" stroke-width="1" fill="none"/>
<rect x="416.5" y="496.5" width="289" height="172.4" fill="none" stroke="#a2a2a2" stroke-width="1"/>
<path d="M462.45 668.9v-3M462.45 496.5v3M508.4 668.9v-3M508.4 496.5v3M554.35 668.9v-3M554.35 496.5v3M600.3 668.9v-3M600.3 496.5v3M646.25 668.9v-3M646.25 496.5v3M692.2 668.9v-3M692.2 496.5v3M416.5 641.3h3M705.5 641.3h-3M416.5 613.7h3M705.5 613.7h-3M416.5 586.1h3M705.5 586.1h-3M416.5 558.5h3M705.5 558.5h-3M416.5 530.9h3M705.5 530.9h-3M416.5 503.3h3M705.5 503.3h-3" stroke="#5c5c5c" stroke-width="1" fill="none"/>
<clipPath id="c5"><rect x="416.2" y="496.2" width="289.8" height="174.3"/></clipPath>
<g clip-path="url(#c5)" fill="none" stroke-linejoin="round" stroke-linecap="butt">
<polyline points="416.54,517.07 417.14,516.74 417.74,515.97 418.34,514.57 418.94,512.21 419.54,511.56 420.14,513.56 420.74,515.9 421.34,516.31 421.94,515.99 422.54,515.69 423.14,516.29 423.74,518.41 424.34,519.13 424.94,518.38 425.54,517.77 426.14,518.74 426.74,521.04 427.34,523.22 427.94,524.67 428.54,525.99 429.14,526.86 429.74,527.26 430.34,527.55 430.94,527.66 431.54,526.27 432.14,523.76 432.74,522.76 433.34,524.32 433.94,526.63 434.54,527.64 435.14,526 435.74,523.34 436.34,522.01 436.94,523.3 437.54,525.45 438.14,526.14 438.74,523.57 439.34,520.29 439.94,519.76 440.54,522.39 441.14,525.42 441.74,526.09 442.34,524.26 442.94,522.02 443.54,521.43 444.14,523.42 444.74,526.07 445.34,528.5 445.94,530.92 446.54,531.89 447.14,530.04 447.74,527.2 448.34,526.27 448.94,526.7 449.54,527.54 450.14,528.66 450.74,531.51 451.34,534.85 451.94,536.09 452.54,533.94 453.14,530.36 453.74,527.65 454.34,525.32 454.94,524.13 455.54,525.27 456.14,527.77 456.74,530.03 457.34,532.12 457.94,533.99 458.54,534.71 459.14,532.9 459.74,529.91 460.34,528.37 460.94,529.21 461.54,530.64 462.14,531.15 462.74,530.1 463.34,528.73 463.94,528.69 464.54,531.44 465.14,533.31 465.74,531.22 466.34,527.02 466.94,523.53 467.54,521.48 468.14,520.05 468.74,520.46 469.34,522.92 469.94,525.21 470.54,525.19 471.14,523.53 471.74,522.11 472.34,522.6 472.94,524.53 473.54,526.17 474.14,526.8 474.74,527.26 475.34,527.61 475.94,527.86 476.54,528.04 477.14,528.28 477.74,529.08 478.34,530.64 478.94,531.87 479.54,532.35 480.14,532.65 480.74,533 481.34,533.73 481.94,535.63 482.54,537.78 483.14,538.94 483.74,538 484.34,535.7 484.94,533.95 485.54,533.19 486.14,532.6 486.74,531.9 487.34,530.83 487.94,529.56 488.54,528.43 489.14,527.45 489.74,526.57 490.34,526.28 490.94,528.43 491.54,531.59 492.14,532.43 492.74,529.93 493.34,526.47 493.94,524.62 494.54,523.81 495.14,523.42 495.74,524.21 496.34,526.34 496.94,528.7 497.54,531 498.14,533.51 498.74,534.72 499.34,534.01 499.94,532.35 500.54,530.53 501.14,529.2 501.74,527.87 502.34,526.76 502.94,526.25 503.54,526.86 504.14,528.26 504.74,529.51 505.34,529.76 505.94,529.53 506.54,529.08 507.14,528.46 507.74,527.14 508.34,524.6 508.94,520.5 509.54,516.9 510.14,515.08 510.74,513.81 511.34,513.93 511.94,517.51 512.54,522.15 513.14,527.49 513.74,532.45 514.34,534.55 514.94,535.85 515.54,536.03 516.14,534.77 516.74,532.94 517.34,531.64 517.94,530.86 518.54,530.18 519.14,529.35 519.74,527.94 520.34,525.91 520.94,524.22 521.54,523.15 522.14,522.39 522.74,522.58 523.34,524.21 523.94,526.52 524.54,529.02 525.14,532.6 525.74,535.56 526.34,536.09 526.94,535.78 527.54,535.47 528.14,536.03 528.74,538.42 529.34,540.29 529.94,539.87 530.54,538.3 531.14,536.54 531.74,535.23 532.34,533.98 532.94,532.8 533.54,531.68 534.14,530.48 534.74,529.35 535.34,528.53 535.94,528.13 536.54,527.84 537.14,527.68 537.74,527.82 538.34,528.6 538.94,529.59 539.54,530.63 540.14,531.94 540.74,533.01 541.34,533.28 541.94,532.7 542.54,531.83 543.14,531.23 543.74,531.87 544.34,534.24 544.94,536.69 545.54,537.49 546.14,535.52 546.74,532.41 547.34,530.36 547.94,529.3 548.54,528.55 549.14,528.4 549.74,528.8 550.34,529.38 550.94,529.76 551.54,529.45 552.14,528.48 552.74,527.72 553.34,527.72 553.94,527.95 554.54,528.32 555.14,529.35 555.74,531.26 556.34,532.91 556.94,533.16 557.54,531.55 558.14,529.64 558.74,529.08 559.34,529.22 559.94,529.54 560.54,530.87 561.14,536.14 561.74,538.92 562.34,536.19 562.94,531.83 563.54,529.37 564.14,528.07 564.74,527.19 565.34,526.99 565.94,527.88 566.54,529.36 567.14,530.68 567.74,531.87 568.34,533.03 568.94,533.93 569.54,534.47 570.14,534.86 570.74,535.32 571.34,536.21 571.94,537.54 572.54,538.66 573.14,538.89 573.74,537.78 574.34,535.97 574.94,534.31 575.54,533.32 576.14,532.52 576.74,531.79 577.34,531.01 577.94,530 578.54,529.01 579.14,528.41 579.74,529.02 580.34,531.65 580.94,535 581.54,538.48 582.14,542.89 582.74,545.64 583.34,544.02 583.94,539.12 584.54,534.77 585.14,531.95 585.74,529.51 586.34,528.38 586.94,529.4 587.54,532.07 588.14,535.04 588.74,537.93 589.34,541.08 589.94,543.24 590.54,544.51 591.14,545.59 591.74,546.36 592.34,546.72 592.94,545.45 593.54,541.62 594.14,537.66 594.74,534.01 595.34,530.15 595.94,527.44 596.54,527.16 597.14,528.83 597.74,531.25 598.34,533.43 598.94,536.02 599.54,537.98 600.14,537.77 600.74,535.26 601.34,532.44 601.94,530.56 602.54,528.8 603.14,527.74 603.74,528.52 604.34,531.65 604.94,534.39 605.54,534.34 606.14,532.95 606.74,530.75 607.34,528.56 607.94,526.94 608.54,525.72 609.14,526.07 609.74,528.71 610.34,531.01 610.94,531.1 611.54,530.78 612.14,530.52 612.74,530.57 613.34,530.98 613.94,531.6 614.54,532.52 615.14,534.15 615.74,535.81 616.34,537.73 616.94,538.94 617.54,535.16 618.14,527.82 618.74,526.02 619.34,525.8 619.94,525.43 620.54,524 621.14,522.76 621.74,524.25 622.34,528.09 622.94,530.75 623.54,532.66 624.14,534.23 624.74,535.57 625.34,536.83 625.94,537.53 626.54,537.43 627.14,537.1 627.74,536.85 628.34,537.51 628.94,539.19 629.54,539.61 630.14,539.06 630.74,538.42 631.34,538.25 631.94,538.25 632.54,538.25 633.14,538.15 633.74,537.55 634.34,536.74 634.94,536.15 635.54,535.9 636.14,535.72 636.74,535.46 637.34,534.58 637.94,533.11 638.54,532.02 639.14,531.93 639.74,532.11 640.34,532.43 640.94,533.46 641.54,536.31 642.14,537.41 642.74,533.78 643.34,528.9 643.94,525.41 644.54,521.95 645.14,519.48 645.74,519.16 646.34,522.46 646.94,526.84 647.54,529.49 648.14,531.62 648.74,533.05 649.34,533.06 649.94,531.44 650.54,530.5 651.14,531.3 651.74,532.63 652.34,533.31 652.94,533.23 653.54,533.02 654.14,532.7 654.74,531.85 655.34,529.96 655.94,528.5 656.54,528.45 657.14,528.77 657.74,529.04 658.34,529.03 658.94,528.81 659.54,528.46 660.14,527.75 660.74,526.51 661.34,525.56 661.94,525.14 662.54,524.87 663.14,525.24 663.74,527.16 664.34,529.56 664.94,531.39 665.54,532.99 666.14,534.58 666.74,536.37 667.34,538.64 667.94,540.23 668.54,539.42 669.14,535.94 669.74,533.38 670.34,534.09 670.94,536.31 671.54,538.58 672.14,540.16 672.74,541.73 673.34,542.88 673.94,543.09 674.54,540.87 675.14,537.58 675.74,535.38 676.34,533.6 676.94,532.28 677.54,531.83 678.14,531.68 678.74,531.62 679.34,533.03 679.94,535.9 680.54,538.17 681.14,539.26 681.74,540.09 682.34,540.35 682.94,538.67 683.54,536.22 684.14,535.53 684.74,537.05 685.34,539 685.94,539.61 686.54,538.47 687.14,536.85 687.74,536.11 688.34,535.98 688.94,535.89 689.54,535.85 690.14,537.02 690.74,539.8 691.34,541.73 691.94,541.79 692.54,541.79 693.14,541.79 693.74,540.91 694.34,538 694.94,534.89 695.54,532.21 696.14,529.42 696.74,527.13 697.34,525.83 697.94,524.89 698.54,524.27 699.14,524.32 699.74,526.43 700.34,529.04 700.94,531.25 701.54,533.41 702.14,534.87 702.74,535.55 703.34,536.14 703.94,537.88 704.54,544.14 705.14,546.22" stroke="#000" stroke-width="2.3"/>
<polyline points="416.5,525.73 418.93,525.83 421.36,525.93 423.79,526.04 426.21,526.14 428.64,526.25 431.07,526.35 433.5,526.46 435.93,526.56 438.36,526.66 440.79,526.77 443.21,526.87 445.64,526.97 448.07,527.08 450.5,527.18 452.93,527.28 455.36,527.39 457.79,527.49 460.21,527.59 462.64,527.7 465.07,527.8 467.5,527.9 469.93,528 472.36,528.11 474.79,528.21 477.21,528.31 479.64,528.41 482.07,528.51 484.5,528.62 486.93,528.72 489.36,528.82 491.79,528.92 494.21,529.02 496.64,529.12 499.07,529.23 501.5,529.33 503.93,529.43 506.36,529.53 508.79,529.63 511.21,529.73 513.64,529.83 516.07,529.93 518.5,530.03 520.93,530.13 523.36,530.23 525.79,530.33 528.21,530.43 530.64,530.53 533.07,530.63 535.5,530.73 537.93,530.83 540.36,530.93 542.79,531.03 545.21,531.13 547.64,531.23 550.07,531.33 552.5,531.43 554.93,531.53 557.36,531.63 559.79,531.73 562.21,531.83 564.64,531.93 567.07,532.02 569.5,532.12 571.93,532.22 574.36,532.32 576.79,532.42 579.21,532.52 581.64,532.61 584.07,532.71 586.5,532.81 588.93,532.91 591.36,533.01 593.79,533.1 596.21,533.2 598.64,533.3 601.07,533.4 603.5,533.49 605.93,533.59 608.36,533.69 610.79,533.78 613.21,533.88 615.64,533.98 618.07,534.08 620.5,534.17 622.93,534.27 625.36,534.37 627.79,534.46 630.21,534.56 632.64,534.65 635.07,534.75 637.5,534.85 639.93,534.94 642.36,535.04 644.79,535.13 647.21,535.23 649.64,535.33 652.07,535.42 654.5,535.52 656.93,535.61 659.36,535.71 661.79,535.8 664.21,535.9 666.64,535.99 669.07,536.09 671.5,536.18 673.93,536.28 676.36,536.37 678.79,536.47 681.21,536.56 683.64,536.66 686.07,536.75 688.5,536.84 690.93,536.94 693.36,537.03 695.79,537.13 698.21,537.22 700.64,537.31 703.07,537.41 705.5,537.5" stroke="#800080" stroke-width="2.4"/>
<polyline points="416.5,665.79 418.93,665.81 421.36,665.82 423.79,665.83 426.21,665.84 428.64,665.85 431.07,665.86 433.5,665.87 435.93,665.88 438.36,665.89 440.79,665.9 443.21,665.92 445.64,665.93 448.07,665.94 450.5,665.95 452.93,665.96 455.36,665.97 457.79,665.98 460.21,665.99 462.64,666 465.07,666.01 467.5,666.02 469.93,666.03 472.36,666.04 474.79,666.05 477.21,666.06 479.64,666.07 482.07,666.08 484.5,666.09 486.93,666.1 489.36,666.11 491.79,666.12 494.21,666.13 496.64,666.14 499.07,666.15 501.5,666.16 503.93,666.17 506.36,666.18 508.79,666.19 511.21,666.2 513.64,666.21 516.07,666.22 518.5,666.23 520.93,666.24 523.36,666.25 525.79,666.26 528.21,666.27 530.64,666.28 533.07,666.29 535.5,666.3 537.93,666.31 540.36,666.32 542.79,666.32 545.21,666.33 547.64,666.34 550.07,666.35 552.5,666.36 554.93,666.37 557.36,666.38 559.79,666.39 562.21,666.4 564.64,666.41 567.07,666.42 569.5,666.42 571.93,666.43 574.36,666.44 576.79,666.45 579.21,666.46 581.64,666.47 584.07,666.48 586.5,666.49 588.93,666.49 591.36,666.5 593.79,666.51 596.21,666.52 598.64,666.53 601.07,666.54 603.5,666.55 605.93,666.55 608.36,666.56 610.79,666.57 613.21,666.58 615.64,666.59 618.07,666.6 620.5,666.6 622.93,666.61 625.36,666.62 627.79,666.63 630.21,666.64 632.64,666.65 635.07,666.65 637.5,666.66 639.93,666.67 642.36,666.68 644.79,666.69 647.21,666.69 649.64,666.7 652.07,666.71 654.5,666.72 656.93,666.73 659.36,666.73 661.79,666.74 664.21,666.75 666.64,666.76 669.07,666.76 671.5,666.77 673.93,666.78 676.36,666.79 678.79,666.79 681.21,666.8 683.64,666.81 686.07,666.82 688.5,666.82 690.93,666.83 693.36,666.84 695.79,666.85 698.21,666.85 700.64,666.86 703.07,666.87 705.5,666.88" stroke="#ff0000" stroke-width="2.4"/>
<polyline points="416.5,528.83 418.93,528.92 421.36,529.02 423.79,529.11 426.21,529.2 428.64,529.3 431.07,529.39 433.5,529.48 435.93,529.58 438.36,529.67 440.79,529.76 443.21,529.85 445.64,529.95 448.07,530.04 450.5,530.13 452.93,530.23 455.36,530.32 457.79,530.41 460.21,530.5 462.64,530.6 465.07,530.69 467.5,530.78 469.93,530.87 472.36,530.96 474.79,531.06 477.21,531.15 479.64,531.24 482.07,531.33 484.5,531.42 486.93,531.52 489.36,531.61 491.79,531.7 494.21,531.79 496.64,531.88 499.07,531.97 501.5,532.06 503.93,532.16 506.36,532.25 508.79,532.34 511.21,532.43 513.64,532.52 516.07,532.61 518.5,532.7 520.93,532.79 523.36,532.88 525.79,532.97 528.21,533.07 530.64,533.16 533.07,533.25 535.5,533.34 537.93,533.43 540.36,533.52 542.79,533.61 545.21,533.7 547.64,533.79 550.07,533.88 552.5,533.97 554.93,534.06 557.36,534.15 559.79,534.24 562.21,534.33 564.64,534.42 567.07,534.51 569.5,534.6 571.93,534.69 574.36,534.78 576.79,534.87 579.21,534.96 581.64,535.05 584.07,535.13 586.5,535.22 588.93,535.31 591.36,535.4 593.79,535.49 596.21,535.58 598.64,535.67 601.07,535.76 603.5,535.85 605.93,535.94 608.36,536.02 610.79,536.11 613.21,536.2 615.64,536.29 618.07,536.38 620.5,536.47 622.93,536.56 625.36,536.64 627.79,536.73 630.21,536.82 632.64,536.91 635.07,537 637.5,537.08 639.93,537.17 642.36,537.26 644.79,537.35 647.21,537.44 649.64,537.52 652.07,537.61 654.5,537.7 656.93,537.79 659.36,537.87 661.79,537.96 664.21,538.05 666.64,538.14 669.07,538.22 671.5,538.31 673.93,538.4 676.36,538.48 678.79,538.57 681.21,538.66 683.64,538.75 686.07,538.83 688.5,538.92 690.93,539.01 693.36,539.09 695.79,539.18 698.21,539.27 700.64,539.35 703.07,539.44 705.5,539.53" stroke="#0000ff" stroke-width="2.4"/>
<polyline points="416.5,668.9 418.93,668.9 421.36,668.9 423.79,668.9 426.21,668.9 428.64,668.9 431.07,668.9 433.5,668.9 435.93,668.9 438.36,668.9 440.79,668.9 443.21,668.9 445.64,668.9 448.07,668.9 450.5,668.9 452.93,668.9 455.36,668.9 457.79,668.9 460.21,668.9 462.64,668.9 465.07,668.9 467.5,668.9 469.93,668.9 472.36,668.9 474.79,668.9 477.21,668.9 479.64,668.9 482.07,668.9 484.5,668.9 486.93,668.9 489.36,668.9 491.79,668.9 494.21,668.9 496.64,668.9 499.07,668.9 501.5,668.9 503.93,668.9 506.36,668.9 508.79,668.9 511.21,668.9 513.64,668.9 516.07,668.9 518.5,668.9 520.93,668.9 523.36,668.9 525.79,668.9 528.21,668.9 530.64,668.9 533.07,668.9 535.5,668.9 537.93,668.9 540.36,668.9 542.79,668.9 545.21,668.9 547.64,668.9 550.07,668.9 552.5,668.9 554.93,668.9 557.36,668.9 559.79,668.9 562.21,668.9 564.64,668.9 567.07,668.9 569.5,668.9 571.93,668.9 574.36,668.9 576.79,668.9 579.21,668.9 581.64,668.9 584.07,668.9 586.5,668.9 588.93,668.9 591.36,668.9 593.79,668.9 596.21,668.9 598.64,668.9 601.07,668.9 603.5,668.9 605.93,668.9 608.36,668.9 610.79,668.9 613.21,668.9 615.64,668.9 618.07,668.9 620.5,668.9 622.93,668.9 625.36,668.9 627.79,668.9 630.21,668.9 632.64,668.9 635.07,668.9 637.5,668.9 639.93,668.9 642.36,668.9 644.79,668.9 647.21,668.9 649.64,668.9 652.07,668.9 654.5,668.9 656.93,668.9 659.36,668.9 661.79,668.9 664.21,668.9 666.64,668.9 669.07,668.9 671.5,668.9 673.93,668.9 676.36,668.9 678.79,668.9 681.21,668.9 683.64,668.9 686.07,668.9 688.5,668.9 690.93,668.9 693.36,668.9 695.79,668.9 698.21,668.9 700.64,668.9 703.07,668.9 705.5,668.9" stroke="#00ff00" stroke-width="2.4"/>
</g>
<g font-size="10.8" fill="#262626">
<text x="416.5" y="684.2" text-anchor="middle">0</text>
<text x="462.45" y="684.2" text-anchor="middle">2</text>
<text x="508.4" y="684.2" text-anchor="middle">4</text>
<text x="554.35" y="684.2" text-anchor="middle">6</text>
<text x="600.3" y="684.2" text-anchor="middle">8</text>
<text x="646.25" y="684.2" text-anchor="middle">10</text>
<text x="692.2" y="684.2" text-anchor="middle">12</text>
<text x="411.7" y="673.65" text-anchor="end">0</text>
<text x="411.7" y="646.05" text-anchor="end">20</text>
<text x="411.7" y="618.45" text-anchor="end">40</text>
<text x="411.7" y="590.85" text-anchor="end">60</text>
<text x="411.7" y="563.25" text-anchor="end">80</text>
<text x="411.7" y="535.65" text-anchor="end">100</text>
<text x="411.7" y="508.05" text-anchor="end">120</text>
</g>
<text x="561" y="700.5" font-size="12.15" fill="#262626" text-anchor="middle">time (min)</text>
<text transform="translate(387.4 582.7) rotate(-90)" font-size="12.15" fill="#262626" text-anchor="middle">cps</text>
<text x="561" y="491.4" font-size="12.4" font-weight="bold" fill="#000" text-anchor="middle">T3 washed</text>
</g>
<g>
<path d="M38.5 737.4V910.45M100.72 737.4V910.45M162.95 737.4V910.45M225.18 737.4V910.45M287.4 737.4V910.45" stroke="#262626" stroke-opacity="0.09" stroke-width="1" fill="none"/>
<path d="M38.5 910.45H326.5M38.5 873.47H326.5M38.5 836.49H326.5M38.5 799.51H326.5M38.5 762.53H326.5" stroke="#262626" stroke-opacity="0.09" stroke-width="1" fill="none"/>
<rect x="38.5" y="737.4" width="288" height="173.05" fill="none" stroke="#a2a2a2" stroke-width="1"/>
<path d="M100.72 910.45v-3M100.72 737.4v3M162.95 910.45v-3M162.95 737.4v3M225.18 910.45v-3M225.18 737.4v3M287.4 910.45v-3M287.4 737.4v3M38.5 873.47h3M326.5 873.47h-3M38.5 836.49h3M326.5 836.49h-3M38.5 799.51h3M326.5 799.51h-3M38.5 762.53h3M326.5 762.53h-3" stroke="#5c5c5c" stroke-width="1" fill="none"/>
<clipPath id="c6"><rect x="38.2" y="737.1" width="288.8" height="174.95"/></clipPath>
<g clip-path="url(#c6)" fill="none" stroke-linejoin="round" stroke-linecap="butt">
<polyline points="38.12,765.42 38.72,769.99 39.32,772.85 39.92,773.9 40.52,772.23 41.12,769.01 41.72,767.54 42.32,767.79 42.92,768.14 43.52,767.98 44.12,764.58 44.72,761.28 45.32,760.21 45.92,759.78 46.52,764.23 47.12,769.9 47.72,769.92 48.32,768.65 48.92,768.64 49.52,772.52 50.12,776.72 50.72,776.83 51.32,773.24 51.92,768.72 52.52,765.66 53.12,763.53 53.72,760.84 54.32,755.09 54.92,750.17 55.52,749.89 56.12,749.97 56.72,756.52 57.32,761.5 57.92,762.33 58.52,763.13 59.12,766.14 59.72,771.06 60.32,773.94 60.92,774.54 61.52,774.9 62.12,775.3 62.72,776.02 63.32,776.65 63.92,775.55 64.52,770.91 65.12,766.7 65.72,767.47 66.32,773.55 66.92,778.56 67.52,776.52 68.12,769.81 68.72,765.45 69.32,765.49 69.92,765.72 70.52,766.07 71.12,767.52 71.72,770.84 72.32,774.62 72.92,778.74 73.52,783.5 74.12,785.9 74.72,782.65 75.32,775.81 75.92,770.52 76.52,766.76 77.12,763.72 77.72,762.63 78.32,766.68 78.92,773.36 79.52,776.72 80.12,773.1 80.72,767.05 81.32,764.83 81.92,767.73 82.52,772.04 83.12,774.57 83.72,775.86 84.32,777.03 84.92,778.93 85.52,782.9 86.12,786.84 86.72,787.89 87.32,785.58 87.92,781.74 88.52,777.62 89.12,771.78 89.72,767.32 90.32,767.95 90.92,772.57 91.52,776.81 92.12,777.37 92.72,777.07 93.32,776.77 93.92,776.97 94.52,778.57 95.12,780.48 95.72,781.68 96.32,782.61 96.92,783.6 97.52,785.1 98.12,787.08 98.72,788.78 99.32,789.43 99.92,787.64 100.52,784.36 101.12,781.93 101.72,780.57 102.32,779.23 102.92,776.89 103.52,772.13 104.12,767.24 104.72,764.85 105.32,763.5 105.92,762.7 106.52,763.64 107.12,769.18 107.72,775.1 108.32,779.75 108.92,783.37 109.52,782.11 110.12,774.76 110.72,767.71 111.32,764.82 111.92,763.33 112.52,765.81 113.12,771.56 113.72,776.44 114.32,781.3 114.92,783.05 115.52,782.28 116.12,781.24 116.72,781.08 117.32,782.29 117.92,783.58 118.52,783.17 119.12,779.9 119.72,776.64 120.32,776.33 120.92,778.33 121.52,780.47 122.12,780.58 122.72,777.18 123.32,772.26 123.92,768.36 124.52,768.24 125.12,774.05 125.72,780.64 126.32,781.9 126.92,777.12 127.52,771.94 128.12,771.95 128.72,776.58 129.32,780.65 129.92,773.23 130.52,774.58 131.12,779.07 131.72,781.88 132.32,782.59 132.92,783.07 133.52,783.25 134.12,781.28 134.72,776.83 135.32,772.34 135.92,770.25 136.52,772.81 137.12,778.27 137.72,783 138.32,785.86 138.92,787.93 139.52,786.84 140.12,783.29 140.72,786.35 141.32,791.61 141.92,791.73 142.52,788.42 143.12,785.21 143.72,784.91 144.32,786.38 144.92,787.89 145.52,787.49 146.12,782.68 146.72,777.34 147.32,775.03 147.92,773.47 148.52,772.69 149.12,772.71 149.72,772.91 150.32,773.25 150.92,775.06 151.52,779.09 152.12,780.59 152.72,780.81 153.32,781.14 153.92,784.3 154.52,789.54 155.12,792.43 155.72,790.53 156.32,786.95 156.92,785.41 157.52,787.79 158.12,791.87 158.72,794.92 159.32,793.8 159.92,787.42 160.52,780.31 161.12,777.34 161.72,780.04 162.32,784.55 162.92,787.14 163.52,788.45 164.12,789.35 164.72,789.51 165.32,787.2 165.92,783.91 166.52,782.57 167.12,784.03 167.72,786.13 168.32,786.67 168.92,785.16 169.52,782.88 170.12,780.88 170.72,778.59 171.32,776.82 171.92,776.77 172.52,779.33 173.12,783.11 173.72,786.71 174.32,791.21 174.92,794.74 175.52,794.65 176.12,791.15 176.72,786.39 177.32,782.54 177.92,779.68 178.52,777.26 179.12,776.58 179.72,779.89 180.32,784.71 180.92,786.77 181.52,786.29 182.12,785.59 182.72,785.48 183.32,787.16 183.92,789.82 184.52,792.24 185.12,794.88 185.72,797.61 186.32,799.63 186.92,800 187.52,795.73 188.12,789.45 188.72,785.76 189.32,784.09 189.92,782.92 190.52,782.58 191.12,785.21 191.72,789.07 192.32,790.09 192.92,786.71 193.52,781.75 194.12,778.48 194.72,778.84 195.32,780.66 195.92,782.74 196.52,784.52 197.12,786.42 197.72,787.47 198.32,787.32 198.92,786.78 199.52,786.03 200.12,784.01 200.72,780.98 201.32,778.66 201.92,778.81 202.52,781.82 203.12,785.73 203.72,788.81 204.32,791.85 204.92,793.12 205.52,790.7 206.12,786.36 206.72,782.98 207.32,782.91 207.92,784.89 208.52,787.63 209.12,790.49 209.72,794.39 210.32,797.15 210.92,796.2 211.52,792.17 212.12,789.03 212.72,788.43 213.32,788.19 213.92,793.09 214.52,802.04 215.12,805.81 215.72,803.94 216.32,800.32 216.92,796.43 217.52,793.54 218.12,790.71 218.72,788.36 219.32,787.51 219.92,790.04 220.52,794.85 221.12,799.1 221.72,800 222.32,797.65 222.92,795.02 223.52,794.67 224.12,795.32 224.72,795.91 225.32,795.59 225.92,794.1 226.52,792.3 227.12,790.74 227.72,789.25 228.32,789.53 228.92,792.41 229.52,795.84 230.12,797.49 230.72,796.96 231.32,795.95 231.92,795.37 232.52,795.57 233.12,796.12 233.72,796.9 234.32,799.21 234.92,802.02 235.52,802.64 236.12,799.75 236.72,795.58 237.32,792.83 237.92,791.47 238.52,790.31 239.12,788.63 239.72,784.95 240.32,782.05 240.92,783.67 241.52,787.98 242.12,790.42 242.72,787.8 243.32,783.16 243.92,781.35 244.52,785.3 245.12,791.02 245.72,795.08 246.32,798.81 246.92,802.3 247.52,805.95 248.12,809.79 248.72,812.16 249.32,810.94 249.92,806.22 250.52,802.02 251.12,800.14 251.72,798.73 252.32,798.19 252.92,798.57 253.52,799.24 254.12,799.6 254.72,798.09 255.32,794.84 255.92,791.99 256.52,790.22 257.12,788.62 257.72,787.68 258.32,788.22 258.92,790.7 259.52,792.94 260.12,792.87 260.72,791.06 261.32,789.31 261.92,789.3 262.52,790.95 263.12,792.42 263.72,792.33 264.32,791.64 264.92,791.14 265.52,792.19 266.12,795.17 266.72,798.38 267.32,801.13 267.92,804.16 268.52,806.47 269.12,807.02 269.72,805.78 270.32,803.96 270.92,802.71 271.52,801.97 272.12,801.13 272.72,799.08 273.32,792.8 273.92,789.01 274.52,792.74 275.12,799.41 275.72,803.14 276.32,799.71 276.92,793.26 277.52,790.45 278.12,791.93 278.72,794.03 279.32,794.35 279.92,790.71 280.52,786.63 281.12,786.82 281.72,791.72 282.32,795.33 282.92,794.48 283.52,792.48 284.12,791.16 284.72,792.54 285.32,796.41 285.92,800.36 286.52,804.24 287.12,808.35 287.72,811.16 288.32,811.27 288.92,809.02 289.52,805.99 290.12,803.65 290.72,801.72 291.32,799.76 291.92,797.5 292.52,794.98 293.12,792.39 293.72,789.48 294.32,786.23 294.92,784.2 295.52,785.14 296.12,788.65 296.72,791.56 297.32,791.55 297.92,790.51 298.52,789.74 299.12,790.92 299.72,794.1 300.32,796.78 300.92,798.39 301.52,799.72 302.12,800.31 302.72,799.83 303.32,798.83 303.92,798.2 304.52,798.27 305.12,798.52 305.72,798.95 306.32,802.06 306.92,805.66 307.52,804.43 308.12,799.5 308.72,796.12 309.32,797.63 309.92,801.26 310.52,803.76 311.12,802.79 311.72,799.79 312.32,796.9 312.92,796.25 313.52,799.02 314.12,803.25 314.72,806.95 315.32,811.17 315.92,814.46 316.52,814.51 317.12,809.02 317.72,801.77 318.32,797.56 318.92,799.72 319.52,804.76 320.12,807.36 320.72,805.59 321.32,803.33 321.92,804.33 322.52,808.47 323.12,812.35 323.72,813.61 324.32,814.27 324.92,814.3 325.52,811.83 326.12,807.07" stroke="#000" stroke-width="2.3"/>
<polyline points="38.5,765.67 40.92,766.11 43.34,766.54 45.76,766.97 48.18,767.39 50.6,767.81 53.02,768.23 55.44,768.65 57.86,769.06 60.28,769.48 62.7,769.89 65.12,770.29 67.54,770.7 69.96,771.1 72.38,771.5 74.8,771.9 77.22,772.29 79.64,772.68 82.06,773.07 84.48,773.46 86.9,773.85 89.32,774.23 91.74,774.61 94.16,774.99 96.58,775.36 99,775.74 101.42,776.11 103.84,776.48 106.26,776.84 108.68,777.21 111.11,777.57 113.53,777.93 115.95,778.29 118.37,778.65 120.79,779 123.21,779.35 125.63,779.7 128.05,780.05 130.47,780.4 132.89,780.74 135.31,781.09 137.73,781.43 140.15,781.76 142.57,782.1 144.99,782.44 147.41,782.77 149.83,783.1 152.25,783.43 154.67,783.76 157.09,784.08 159.51,784.4 161.93,784.73 164.35,785.05 166.77,785.36 169.19,785.68 171.61,786 174.03,786.31 176.45,786.62 178.87,786.93 181.29,787.24 183.71,787.54 186.13,787.85 188.55,788.15 190.97,788.45 193.39,788.75 195.81,789.05 198.23,789.35 200.65,789.64 203.07,789.94 205.49,790.23 207.91,790.52 210.33,790.81 212.75,791.1 215.17,791.38 217.59,791.67 220.01,791.95 222.43,792.23 224.85,792.51 227.27,792.79 229.69,793.07 232.11,793.34 234.53,793.62 236.95,793.89 239.37,794.16 241.79,794.43 244.21,794.7 246.63,794.97 249.05,795.24 251.47,795.5 253.89,795.77 256.32,796.03 258.74,796.29 261.16,796.55 263.58,796.81 266,797.07 268.42,797.32 270.84,797.58 273.26,797.83 275.68,798.08 278.1,798.33 280.52,798.58 282.94,798.83 285.36,799.08 287.78,799.33 290.2,799.57 292.62,799.82 295.04,800.06 297.46,800.3 299.88,800.54 302.3,800.78 304.72,801.02 307.14,801.26 309.56,801.5 311.98,801.73 314.4,801.96 316.82,802.2 319.24,802.43 321.66,802.66 324.08,802.89 326.5,803.12" stroke="#800080" stroke-width="2.4"/>
<polyline points="38.5,877.54 40.92,877.75 43.34,877.97 45.76,878.18 48.18,878.4 50.6,878.61 53.02,878.82 55.44,879.03 57.86,879.24 60.28,879.44 62.7,879.65 65.12,879.85 67.54,880.05 69.96,880.25 72.38,880.45 74.8,880.65 77.22,880.85 79.64,881.04 82.06,881.23 84.48,881.43 86.9,881.62 89.32,881.81 91.74,882 94.16,882.19 96.58,882.37 99,882.56 101.42,882.74 103.84,882.92 106.26,883.11 108.68,883.29 111.11,883.47 113.53,883.64 115.95,883.82 118.37,884 120.79,884.17 123.21,884.34 125.63,884.52 128.05,884.69 130.47,884.86 132.89,885.03 135.31,885.19 137.73,885.36 140.15,885.53 142.57,885.69 144.99,885.85 147.41,886.02 149.83,886.18 152.25,886.34 154.67,886.5 157.09,886.65 159.51,886.81 161.93,886.97 164.35,887.12 166.77,887.28 169.19,887.43 171.61,887.58 174.03,887.73 176.45,887.88 178.87,888.03 181.29,888.18 183.71,888.33 186.13,888.47 188.55,888.62 190.97,888.76 193.39,888.9 195.81,889.05 198.23,889.19 200.65,889.33 203.07,889.47 205.49,889.61 207.91,889.74 210.33,889.88 212.75,890.01 215.17,890.15 217.59,890.28 220.01,890.42 222.43,890.55 224.85,890.68 227.27,890.81 229.69,890.94 232.11,891.07 234.53,891.2 236.95,891.32 239.37,891.45 241.79,891.58 244.21,891.7 246.63,891.82 249.05,891.95 251.47,892.07 253.89,892.19 256.32,892.31 258.74,892.43 261.16,892.55 263.58,892.67 266,892.78 268.42,892.9 270.84,893.02 273.26,893.13 275.68,893.25 278.1,893.36 280.52,893.47 282.94,893.58 285.36,893.7 287.78,893.81 290.2,893.92 292.62,894.02 295.04,894.13 297.46,894.24 299.88,894.35 302.3,894.45 304.72,894.56 307.14,894.66 309.56,894.77 311.98,894.87 314.4,894.97 316.82,895.08 319.24,895.18 321.66,895.28 324.08,895.38 326.5,895.48" stroke="#ff0000" stroke-width="2.4"/>
<polyline points="38.5,805.06 40.92,805.19 43.34,805.32 45.76,805.44 48.18,805.57 50.6,805.7 53.02,805.83 55.44,805.96 57.86,806.09 60.28,806.22 62.7,806.34 65.12,806.47 67.54,806.6 69.96,806.73 72.38,806.85 74.8,806.98 77.22,807.11 79.64,807.23 82.06,807.36 84.48,807.49 86.9,807.61 89.32,807.74 91.74,807.87 94.16,807.99 96.58,808.12 99,808.24 101.42,808.37 103.84,808.49 106.26,808.62 108.68,808.74 111.11,808.87 113.53,808.99 115.95,809.12 118.37,809.24 120.79,809.37 123.21,809.49 125.63,809.61 128.05,809.74 130.47,809.86 132.89,809.99 135.31,810.11 137.73,810.23 140.15,810.35 142.57,810.48 144.99,810.6 147.41,810.72 149.83,810.85 152.25,810.97 154.67,811.09 157.09,811.21 159.51,811.33 161.93,811.45 164.35,811.58 166.77,811.7 169.19,811.82 171.61,811.94 174.03,812.06 176.45,812.18 178.87,812.3 181.29,812.42 183.71,812.54 186.13,812.66 188.55,812.78 190.97,812.9 193.39,813.02 195.81,813.14 198.23,813.26 200.65,813.38 203.07,813.5 205.49,813.62 207.91,813.74 210.33,813.86 212.75,813.98 215.17,814.09 217.59,814.21 220.01,814.33 222.43,814.45 224.85,814.57 227.27,814.68 229.69,814.8 232.11,814.92 234.53,815.04 236.95,815.15 239.37,815.27 241.79,815.39 244.21,815.5 246.63,815.62 249.05,815.74 251.47,815.85 253.89,815.97 256.32,816.08 258.74,816.2 261.16,816.32 263.58,816.43 266,816.55 268.42,816.66 270.84,816.78 273.26,816.89 275.68,817.01 278.1,817.12 280.52,817.24 282.94,817.35 285.36,817.46 287.78,817.58 290.2,817.69 292.62,817.81 295.04,817.92 297.46,818.03 299.88,818.15 302.3,818.26 304.72,818.37 307.14,818.49 309.56,818.6 311.98,818.71 314.4,818.82 316.82,818.94 319.24,819.05 321.66,819.16 324.08,819.27 326.5,819.39" stroke="#0000ff" stroke-width="2.4"/>
<polyline points="38.5,903.98 40.92,904.07 43.34,904.15 45.76,904.24 48.18,904.32 50.6,904.4 53.02,904.48 55.44,904.56 57.86,904.64 60.28,904.72 62.7,904.8 65.12,904.87 67.54,904.95 69.96,905.02 72.38,905.09 74.8,905.17 77.22,905.24 79.64,905.31 82.06,905.38 84.48,905.45 86.9,905.51 89.32,905.58 91.74,905.64 94.16,905.71 96.58,905.77 99,905.84 101.42,905.9 103.84,905.96 106.26,906.02 108.68,906.08 111.11,906.14 113.53,906.2 115.95,906.25 118.37,906.31 120.79,906.36 123.21,906.42 125.63,906.47 128.05,906.53 130.47,906.58 132.89,906.63 135.31,906.68 137.73,906.73 140.15,906.78 142.57,906.83 144.99,906.88 147.41,906.93 149.83,906.98 152.25,907.02 154.67,907.07 157.09,907.11 159.51,907.16 161.93,907.2 164.35,907.25 166.77,907.29 169.19,907.33 171.61,907.37 174.03,907.42 176.45,907.46 178.87,907.5 181.29,907.54 183.71,907.58 186.13,907.61 188.55,907.65 190.97,907.69 193.39,907.73 195.81,907.76 198.23,907.8 200.65,907.84 203.07,907.87 205.49,907.91 207.91,907.94 210.33,907.97 212.75,908.01 215.17,908.04 217.59,908.07 220.01,908.1 222.43,908.14 224.85,908.17 227.27,908.2 229.69,908.23 232.11,908.26 234.53,908.29 236.95,908.32 239.37,908.34 241.79,908.37 244.21,908.4 246.63,908.43 249.05,908.46 251.47,908.48 253.89,908.51 256.32,908.53 258.74,908.56 261.16,908.59 263.58,908.61 266,908.64 268.42,908.66 270.84,908.68 273.26,908.71 275.68,908.73 278.1,908.75 280.52,908.78 282.94,908.8 285.36,908.82 287.78,908.84 290.2,908.86 292.62,908.89 295.04,908.91 297.46,908.93 299.88,908.95 302.3,908.97 304.72,908.99 307.14,909.01 309.56,909.03 311.98,909.05 314.4,909.07 316.82,909.08 319.24,909.1 321.66,909.12 324.08,909.14 326.5,909.16" stroke="#00ff00" stroke-width="2.4"/>
</g>
<g font-size="10.8" fill="#262626">
<text x="38.5" y="925.75" text-anchor="middle">0</text>
<text x="100.72" y="925.75" text-anchor="middle">5</text>
<text x="162.95" y="925.75" text-anchor="middle">10</text>
<text x="225.18" y="925.75" text-anchor="middle">15</text>
<text x="287.4" y="925.75" text-anchor="middle">20</text>
<text x="32.7" y="915.2" text-anchor="end">0</text>
<text x="32.7" y="878.22" text-anchor="end">20</text>
<text x="32.7" y="841.24" text-anchor="end">40</text>
<text x="32.7" y="804.26" text-anchor="end">60</text>
<text x="32.7" y="767.28" text-anchor="end">80</text>
</g>
<text x="182.5" y="942.05" font-size="12.15" fill="#262626" text-anchor="middle">time (min)</text>
<text transform="translate(14.7 823.92) rotate(-90)" font-size="12.15" fill="#262626" text-anchor="middle">cps</text>
<text x="182.5" y="732.3" font-size="12.4" font-weight="bold" fill="#000" text-anchor="middle">T4</text>
</g>
<g>
<path d="M416.5 737.4V910.45M453.49 737.4V910.45M490.48 737.4V910.45M527.47 737.4V910.45M564.46 737.4V910.45M601.45 737.4V910.45M638.44 737.4V910.45M675.43 737.4V910.45" stroke="#262626" stroke-opacity="0.09" stroke-width="1" fill="none"/>
<path d="M416.5 910.45H705.5M416.5 876.45H705.5M416.5 842.45H705.5M416.5 808.45H705.5M416.5 774.45H705.5M416.5 740.45H705.5" stroke="#262626" stroke-opacity="0.09" stroke-width="1" fill="none"/>
<rect x="416.5" y="737.4" width="289" height="173.05" fill="none" stroke="#a2a2a2" stroke-width="1"/>
<path d="M453.49 910.45v-3M453.49 737.4v3M490.48 910.45v-3M490.48 737.4v3M527.47 910.45v-3M527.47 737.4v3M564.46 910.45v-3M564.46 737.4v3M601.45 910.45v-3M601.45 737.4v3M638.44 910.45v-3M638.44 737.4v3M675.43 910.45v-3M675.43 737.4v3M416.5 876.45h3M705.5 876.45h-3M416.5 842.45h3M705.5 842.45h-3M416.5 808.45h3M705.5 808.45h-3M416.5 774.45h3M705.5 774.45h-3M416.5 740.45h3M705.5 740.45h-3" stroke="#5c5c5c" stroke-width="1" fill="none"/>
<clipPath id="c7"><rect x="416.2" y="737.1" width="289.8" height="174.95"/></clipPath>
<g clip-path="url(#c7)" fill="none" stroke-linejoin="round" stroke-linecap="butt">
<polyline points="416.54,870.79 418.94,872.91 421.06,874.32 423.18,876.86 425.3,874.32 427.42,872.91 429.25,867.97 430.95,872.2 433.07,872.91 435.89,873.62 438.01,869.38 440.13,868.67 442.25,869.38 444.37,869.38 446.2,868.67 447.9,871.5 450.02,875.73 451.85,879.27 454.25,881.67 456.37,879.27 458.49,875.73 460.61,875.03 462.73,876.86 464.85,875.03 466.97,873.62 469.08,874.32 471.2,875.73 473.32,874.32 475.44,872.91 477.56,870.79 479.25,875.73 481.09,878.28 482.93,874.32 484.62,871.5 486.74,865.85 488.86,868.67 490.98,870.08 493.1,869.38 495.21,868.67 497.33,870.08 499.45,872.2 500.86,873.62 502.98,869.38 505.1,867.26 507.22,866.13 508,865.56 509.69,865.85 511.95,869.38 513.93,876.86 516.19,871.5 518.17,867.97 520.43,865.56 522.12,868.67 523.82,870.79 525.23,875.03 527.07,872.91 528.9,874.32 530.6,869.38 532.29,868.67 533.42,841.13 535.12,839.72 536.95,836.19 538.79,822.77 540.2,851.72 542.6,857.37 544.02,868.67 545.01,877.85 546.84,877.85 548.96,875.73 551.08,874.32 552.92,872.91 554.61,869.8 556.73,869.38 557.72,843.25 558.85,841.55 560.54,844.66 562.38,846.07 563.37,848.19 564.5,874.32 565.91,878.56 568.45,881.1 570.43,875.73 572.69,869.38 574.67,865.85 576.5,868.39 578.62,869.38 580.74,872.2 582.86,873.19 584.98,873.19 587.1,872.2 589.21,873.62 591.05,872.91 592.75,870.79 594.86,872.63 596.98,874.32 599.1,878.56 600.94,872.91 602.63,867.26 604.75,869.8 606,871.5 607.41,874.32 608.82,879.69 610.52,874.32 612.36,875.73 614.19,877.15 616.17,883.08 618.01,878.56 620.12,875.73 622.24,871.5 624.36,873.62 626.48,872.91 628.6,873.62 630.72,872.63 632.55,876.44 634.53,880.68 636.37,877.15 638.2,875.03 640.18,871.5 642.02,875.73 643.85,874.32 645.55,869.38 647.67,866.98 649.5,870.08 651.48,872.2 653.32,874.32 655.15,874.32 657.13,872.91 658.97,874.32 660.8,876.44 662.78,877.85 664.62,871.5 666.45,864.44 668.15,861.89 670.27,862.32 672.1,863.73 673.8,867.97 675.49,869.38 677.33,871.5 679.16,872.91 680.86,871.5 682.98,870.08 684.81,868.95 686.51,869.38 688.2,872.91 690.04,877.15 691.88,878.56 693.85,879.27 696.11,882.8 698.09,880.68 699.93,877.85 701.76,872.91 703.46,870.79 705.44,870.08" stroke="#000" stroke-width="2.0"/>
<polyline points="416.5,870.69 418.93,870.7 421.36,870.72 423.79,870.74 426.21,870.75 428.64,870.77 431.07,870.79 433.5,870.8 435.93,870.82 438.36,870.84 440.79,870.85 443.21,870.87 445.64,870.89 448.07,870.9 450.5,870.92 452.93,870.94 455.36,870.95 457.79,870.97 460.21,870.99 462.64,871 465.07,871.02 467.5,871.04 469.93,871.05 472.36,871.07 474.79,871.09 477.21,871.1 479.64,871.12 482.07,871.13 484.5,871.15 486.93,871.17 489.36,871.18 491.79,871.2 494.21,871.22 496.64,871.23 499.07,871.25 501.5,871.27 503.93,871.28 506.36,871.3 508.79,871.32 511.21,871.33 513.64,871.35 516.07,871.36 518.5,871.38 520.93,871.4 523.36,871.41 525.79,871.43 528.21,871.45 530.64,871.46 533.07,871.48 535.5,871.5 537.93,871.51 540.36,871.53 542.79,871.54 545.21,871.56 547.64,871.58 550.07,871.59 552.5,871.61 554.93,871.63 557.36,871.64 559.79,871.66 562.21,871.67 564.64,871.69 567.07,871.71 569.5,871.72 571.93,871.74 574.36,871.76 576.79,871.77 579.21,871.79 581.64,871.8 584.07,871.82 586.5,871.84 588.93,871.85 591.36,871.87 593.79,871.89 596.21,871.9 598.64,871.92 601.07,871.93 603.5,871.95 605.93,871.97 608.36,871.98 610.79,872 613.21,872.01 615.64,872.03 618.07,872.05 620.5,872.06 622.93,872.08 625.36,872.09 627.79,872.11 630.21,872.13 632.64,872.14 635.07,872.16 637.5,872.17 639.93,872.19 642.36,872.21 644.79,872.22 647.21,872.24 649.64,872.25 652.07,872.27 654.5,872.29 656.93,872.3 659.36,872.32 661.79,872.33 664.21,872.35 666.64,872.37 669.07,872.38 671.5,872.4 673.93,872.41 676.36,872.43 678.79,872.45 681.21,872.46 683.64,872.48 686.07,872.49 688.5,872.51 690.93,872.53 693.36,872.54 695.79,872.56 698.21,872.57 700.64,872.59 703.07,872.6 705.5,872.62" stroke="#800080" stroke-width="2.4"/>
<polyline points="416.5,910.42 418.93,910.42 421.36,910.42 423.79,910.42 426.21,910.42 428.64,910.42 431.07,910.42 433.5,910.42 435.93,910.42 438.36,910.42 440.79,910.42 443.21,910.42 445.64,910.42 448.07,910.42 450.5,910.42 452.93,910.42 455.36,910.42 457.79,910.42 460.21,910.42 462.64,910.42 465.07,910.42 467.5,910.42 469.93,910.42 472.36,910.42 474.79,910.42 477.21,910.42 479.64,910.42 482.07,910.42 484.5,910.42 486.93,910.42 489.36,910.42 491.79,910.42 494.21,910.42 496.64,910.42 499.07,910.42 501.5,910.42 503.93,910.42 506.36,910.42 508.79,910.42 511.21,910.42 513.64,910.42 516.07,910.42 518.5,910.42 520.93,910.42 523.36,910.42 525.79,910.42 528.21,910.42 530.64,910.42 533.07,910.42 535.5,910.42 537.93,910.42 540.36,910.42 542.79,910.42 545.21,910.42 547.64,910.42 550.07,910.42 552.5,910.42 554.93,910.42 557.36,910.42 559.79,910.42 562.21,910.42 564.64,910.42 567.07,910.42 569.5,910.42 571.93,910.42 574.36,910.42 576.79,910.42 579.21,910.42 581.64,910.42 584.07,910.42 586.5,910.42 588.93,910.42 591.36,910.42 593.79,910.42 596.21,910.42 598.64,910.42 601.07,910.42 603.5,910.42 605.93,910.42 608.36,910.42 610.79,910.42 613.21,910.42 615.64,910.42 618.07,910.42 620.5,910.42 622.93,910.42 625.36,910.42 627.79,910.42 630.21,910.42 632.64,910.42 635.07,910.42 637.5,910.42 639.93,910.42 642.36,910.42 644.79,910.42 647.21,910.42 649.64,910.42 652.07,910.42 654.5,910.42 656.93,910.42 659.36,910.42 661.79,910.42 664.21,910.42 666.64,910.42 669.07,910.42 671.5,910.42 673.93,910.42 676.36,910.42 678.79,910.42 681.21,910.42 683.64,910.42 686.07,910.42 688.5,910.42 690.93,910.42 693.36,910.42 695.79,910.42 698.21,910.42 700.64,910.42 703.07,910.42 705.5,910.42" stroke="#ff0000" stroke-width="2.4"/>
<polyline points="416.5,870.75 418.93,870.77 421.36,870.79 423.79,870.8 426.21,870.82 428.64,870.84 431.07,870.85 433.5,870.87 435.93,870.89 438.36,870.9 440.79,870.92 443.21,870.94 445.64,870.95 448.07,870.97 450.5,870.98 452.93,871 455.36,871.02 457.79,871.03 460.21,871.05 462.64,871.07 465.07,871.08 467.5,871.1 469.93,871.12 472.36,871.13 474.79,871.15 477.21,871.16 479.64,871.18 482.07,871.2 484.5,871.21 486.93,871.23 489.36,871.25 491.79,871.26 494.21,871.28 496.64,871.29 499.07,871.31 501.5,871.33 503.93,871.34 506.36,871.36 508.79,871.38 511.21,871.39 513.64,871.41 516.07,871.42 518.5,871.44 520.93,871.46 523.36,871.47 525.79,871.49 528.21,871.5 530.64,871.52 533.07,871.54 535.5,871.55 537.93,871.57 540.36,871.59 542.79,871.6 545.21,871.62 547.64,871.63 550.07,871.65 552.5,871.67 554.93,871.68 557.36,871.7 559.79,871.71 562.21,871.73 564.64,871.75 567.07,871.76 569.5,871.78 571.93,871.79 574.36,871.81 576.79,871.83 579.21,871.84 581.64,871.86 584.07,871.87 586.5,871.89 588.93,871.91 591.36,871.92 593.79,871.94 596.21,871.95 598.64,871.97 601.07,871.99 603.5,872 605.93,872.02 608.36,872.03 610.79,872.05 613.21,872.07 615.64,872.08 618.07,872.1 620.5,872.11 622.93,872.13 625.36,872.15 627.79,872.16 630.21,872.18 632.64,872.19 635.07,872.21 637.5,872.22 639.93,872.24 642.36,872.26 644.79,872.27 647.21,872.29 649.64,872.3 652.07,872.32 654.5,872.34 656.93,872.35 659.36,872.37 661.79,872.38 664.21,872.4 666.64,872.41 669.07,872.43 671.5,872.45 673.93,872.46 676.36,872.48 678.79,872.49 681.21,872.51 683.64,872.52 686.07,872.54 688.5,872.56 690.93,872.57 693.36,872.59 695.79,872.6 698.21,872.62 700.64,872.63 703.07,872.65 705.5,872.67" stroke="#0000ff" stroke-width="2.4"/>
<polyline points="416.5,910.42 418.93,910.42 421.36,910.42 423.79,910.42 426.21,910.42 428.64,910.42 431.07,910.42 433.5,910.42 435.93,910.42 438.36,910.42 440.79,910.42 443.21,910.42 445.64,910.42 448.07,910.42 450.5,910.42 452.93,910.42 455.36,910.42 457.79,910.42 460.21,910.42 462.64,910.42 465.07,910.42 467.5,910.42 469.93,910.42 472.36,910.42 474.79,910.42 477.21,910.42 479.64,910.42 482.07,910.42 484.5,910.42 486.93,910.42 489.36,910.42 491.79,910.42 494.21,910.42 496.64,910.42 499.07,910.42 501.5,910.42 503.93,910.42 506.36,910.42 508.79,910.42 511.21,910.42 513.64,910.42 516.07,910.42 518.5,910.42 520.93,910.42 523.36,910.42 525.79,910.42 528.21,910.42 530.64,910.42 533.07,910.42 535.5,910.42 537.93,910.42 540.36,910.42 542.79,910.42 545.21,910.42 547.64,910.42 550.07,910.42 552.5,910.42 554.93,910.42 557.36,910.42 559.79,910.42 562.21,910.42 564.64,910.42 567.07,910.42 569.5,910.42 571.93,910.42 574.36,910.42 576.79,910.42 579.21,910.42 581.64,910.43 584.07,910.43 586.5,910.43 588.93,910.43 591.36,910.43 593.79,910.43 596.21,910.43 598.64,910.43 601.07,910.43 603.5,910.43 605.93,910.43 608.36,910.43 610.79,910.43 613.21,910.43 615.64,910.43 618.07,910.43 620.5,910.43 622.93,910.43 625.36,910.43 627.79,910.43 630.21,910.43 632.64,910.43 635.07,910.43 637.5,910.43 639.93,910.43 642.36,910.43 644.79,910.43 647.21,910.43 649.64,910.43 652.07,910.43 654.5,910.43 656.93,910.43 659.36,910.43 661.79,910.43 664.21,910.43 666.64,910.43 669.07,910.43 671.5,910.43 673.93,910.43 676.36,910.43 678.79,910.43 681.21,910.43 683.64,910.43 686.07,910.43 688.5,910.43 690.93,910.43 693.36,910.43 695.79,910.43 698.21,910.43 700.64,910.43 703.07,910.43 705.5,910.43" stroke="#00ff00" stroke-width="2.4"/>
</g>
<g font-size="10.8" fill="#262626">
<text x="416.5" y="925.75" text-anchor="middle">0</text>
<text x="453.49" y="925.75" text-anchor="middle">1</text>
<text x="490.48" y="925.75" text-anchor="middle">2</text>
<text x="527.47" y="925.75" text-anchor="middle">3</text>
<text x="564.46" y="925.75" text-anchor="middle">4</text>
<text x="601.45" y="925.75" text-anchor="middle">5</text>
<text x="638.44" y="925.75" text-anchor="middle">6</text>
<text x="675.43" y="925.75" text-anchor="middle">7</text>
<text x="411.7" y="915.2" text-anchor="end">0</text>
<text x="411.7" y="881.2" text-anchor="end">20</text>
<text x="411.7" y="847.2" text-anchor="end">40</text>
<text x="411.7" y="813.2" text-anchor="end">60</text>
<text x="411.7" y="779.2" text-anchor="end">80</text>
<text x="411.7" y="745.2" text-anchor="end">100</text>
</g>
<text x="561" y="942.05" font-size="12.15" fill="#262626" text-anchor="middle">time (min)</text>
<text transform="translate(387.4 823.92) rotate(-90)" font-size="12.15" fill="#262626" text-anchor="middle">cps</text>
<text x="561" y="732.3" font-size="12.4" font-weight="bold" fill="#000" text-anchor="middle">T4 washed</text>
</g>
<g><rect x="626.4" y="750.4" width="64.6" height="77.1" fill="#fff" stroke="#8c8c8c" stroke-width="1"/>
<path d="M631.1 758.7H664.6" stroke="#000" stroke-width="2.1" fill="none"/>
<text x="668.6" y="762.2" font-size="9.7" fill="#000">PET</text>
<path d="M631.1 771.5H664.6" stroke="#800080" stroke-width="2.1" fill="none"/>
<text x="668.6" y="775.0" font-size="9.7" fill="#000">fit</text>
<path d="M631.1 785.5H664.6" stroke="#ff0000" stroke-width="2.1" fill="none"/>
<text x="668.8" y="791.9" font-size="10.4" fill="#000"><tspan font-size="8.2" dy="-5">11</tspan><tspan dy="5">C</tspan></text>
<path d="M631.1 801.6H664.6" stroke="#0000ff" stroke-width="2.1" fill="none"/>
<text x="668.8" y="807.4" font-size="10.4" fill="#000"><tspan font-size="8.2" dy="-5">18</tspan><tspan dy="5">F</tspan></text>
<path d="M631.1 817.2H664.6" stroke="#00ff00" stroke-width="2.1" fill="none"/>
<text x="668.8" y="823.3" font-size="10.4" fill="#000"><tspan font-size="8.2" dy="-5">13</tspan><tspan dy="5">N</tspan></text>
</g>
</svg>
</body></html>
